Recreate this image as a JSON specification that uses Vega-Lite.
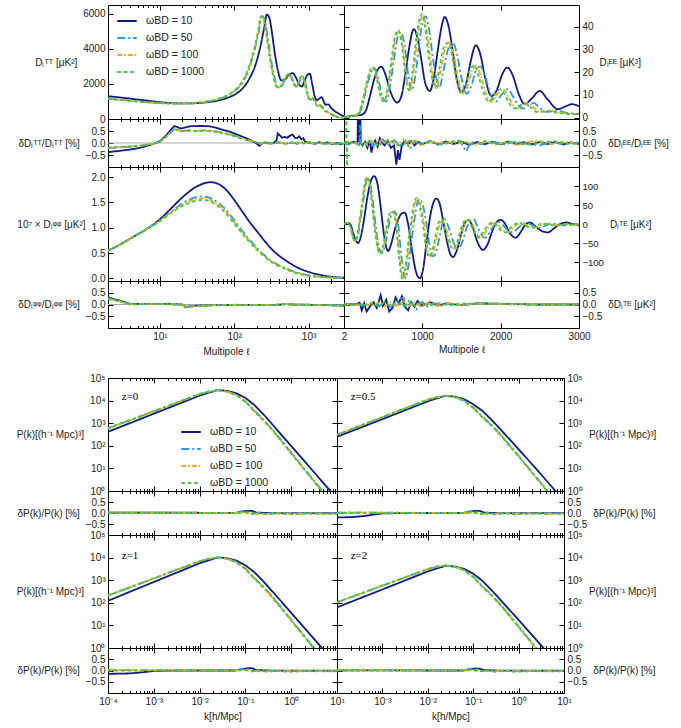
{
"$schema":"https://vega.github.io/schema/vega-lite/v6.json",
"padding":{"left":15,"top":4,"right":5,"bottom":5},
"config":{
 "font":"Liberation Sans",
 "view":{"stroke":"#000","strokeWidth":1},
 "axis":{"domain":false,"grid":false,"labelFont":"Liberation Sans","labelFontSize":10,"labelColor":"#222","titleFont":"Liberation Sans","titleFontSize":10,"titleFontWeight":"normal","titleColor":"#222","tickColor":"#000","tickSize":-5,"labelPadding":8,"labelFlush":false,"labelOverlap":false},
 "axisLeft":{"titleAngle":0,"titleAlign":"right","titleBaseline":"middle","titlePadding":6},
 "axisRight":{"titleAngle":0,"titleAlign":"left","titleBaseline":"middle","titlePadding":6},
 "axisBottom":{"titlePadding":3},
 "line":{"strokeWidth":1.8},
 "legend":{"symbolType":"stroke","symbolSize":380,"symbolStrokeWidth":2,"labelFont":"Liberation Sans","labelFontSize":10.5,"labelColor":"#222","rowPadding":-8,"labelOffset":8}
},
"datasets":{
"tt":[
{"s":10,"x":2,"y":1300},{"s":10,"x":3,"y":1220},{"s":10,"x":4,"y":1160},{"s":10,"x":5,"y":1110},{"s":10,"x":7,"y":1040},{"s":10,"x":10,"y":960},{"s":10,"x":15,"y":905},{"s":10,"x":20,"y":890},{"s":10,"x":30,"y":900},{"s":10,"x":40,"y":940},{"s":10,"x":60,"y":1050},{"s":10,"x":80,"y":1200},{"s":10,"x":100,"y":1380},{"s":10,"x":130,"y":1750},{"s":10,"x":160,"y":2300},{"s":10,"x":190,"y":3000},{"s":10,"x":220,"y":3950},{"s":10,"x":250,"y":5100},{"s":10,"x":275,"y":5950},{"s":10,"x":295,"y":5800},{"s":10,"x":320,"y":5000},{"s":10,"x":350,"y":3800},{"s":10,"x":390,"y":2700},{"s":10,"x":430,"y":2200},{"s":10,"x":480,"y":2250},{"s":10,"x":540,"y":2500},{"s":10,"x":610,"y":2620},{"s":10,"x":680,"y":2350},{"s":10,"x":750,"y":1950},{"s":10,"x":810,"y":1850},{"s":10,"x":880,"y":2150},{"s":10,"x":960,"y":2500},{"s":10,"x":1040,"y":2580},{"s":10,"x":1120,"y":2000},{"s":10,"x":1200,"y":1350},{"s":10,"x":1280,"y":1080},{"s":10,"x":1380,"y":1150},{"s":10,"x":1500,"y":1250},{"s":10,"x":1600,"y":1000},{"s":10,"x":1700,"y":820},{"s":10,"x":1850,"y":830},{"s":10,"x":2000,"y":650},{"s":10,"x":2200,"y":480},{"s":10,"x":2500,"y":330},{"s":10,"x":2800,"y":210},{"s":10,"x":3000,"y":150},
{"s":50,"x":2,"y":1160},{"s":50,"x":3,"y":1095},{"s":50,"x":4,"y":1045},{"s":50,"x":5,"y":1005},{"s":50,"x":7,"y":955},{"s":50,"x":10,"y":915},{"s":50,"x":15,"y":888},{"s":50,"x":20,"y":886},{"s":50,"x":30,"y":918},{"s":50,"x":40,"y":975},{"s":50,"x":60,"y":1120},{"s":50,"x":80,"y":1310},{"s":50,"x":100,"y":1570},{"s":50,"x":130,"y":2100},{"s":50,"x":160,"y":2920},{"s":50,"x":190,"y":4000},{"s":50,"x":212,"y":4900},{"s":50,"x":236,"y":5880},{"s":50,"x":255,"y":5720},{"s":50,"x":280,"y":4780},{"s":50,"x":305,"y":3680},{"s":50,"x":336,"y":2680},{"s":50,"x":366,"y":2020},{"s":50,"x":396,"y":1790},{"s":50,"x":436,"y":1890},{"s":50,"x":488,"y":2290},{"s":50,"x":540,"y":2560},{"s":50,"x":590,"y":2400},{"s":50,"x":650,"y":2000},{"s":50,"x":700,"y":1830},{"s":50,"x":762,"y":2150},{"s":50,"x":822,"y":2440},{"s":50,"x":884,"y":2240},{"s":50,"x":955,"y":1650},{"s":50,"x":1025,"y":1150},{"s":50,"x":1096,"y":1100},{"s":50,"x":1168,"y":1190},{"s":50,"x":1250,"y":950},{"s":50,"x":1340,"y":760},{"s":50,"x":1440,"y":800},{"s":50,"x":1545,"y":650},{"s":50,"x":1675,"y":490},{"s":50,"x":1830,"y":400},{"s":50,"x":2000,"y":290},{"s":50,"x":2200,"y":195},{"s":50,"x":2500,"y":115},{"s":50,"x":2800,"y":65},{"s":50,"x":3000,"y":45},
{"s":100,"x":2,"y":1150},{"s":100,"x":3,"y":1090},{"s":100,"x":4,"y":1040},{"s":100,"x":5,"y":1000},{"s":100,"x":7,"y":950},{"s":100,"x":10,"y":910},{"s":100,"x":15,"y":885},{"s":100,"x":20,"y":885},{"s":100,"x":30,"y":920},{"s":100,"x":40,"y":980},{"s":100,"x":60,"y":1130},{"s":100,"x":80,"y":1330},{"s":100,"x":100,"y":1600},{"s":100,"x":130,"y":2150},{"s":100,"x":160,"y":3000},{"s":100,"x":190,"y":4100},{"s":100,"x":210,"y":4950},{"s":100,"x":232,"y":5850},{"s":100,"x":250,"y":5700},{"s":100,"x":275,"y":4750},{"s":100,"x":300,"y":3650},{"s":100,"x":330,"y":2650},{"s":100,"x":360,"y":2000},{"s":100,"x":390,"y":1780},{"s":100,"x":430,"y":1900},{"s":100,"x":480,"y":2300},{"s":100,"x":530,"y":2550},{"s":100,"x":580,"y":2400},{"s":100,"x":640,"y":2000},{"s":100,"x":690,"y":1820},{"s":100,"x":750,"y":2150},{"s":100,"x":810,"y":2450},{"s":100,"x":870,"y":2250},{"s":100,"x":940,"y":1650},{"s":100,"x":1010,"y":1150},{"s":100,"x":1080,"y":1100},{"s":100,"x":1150,"y":1200},{"s":100,"x":1230,"y":950},{"s":100,"x":1320,"y":750},{"s":100,"x":1420,"y":800},{"s":100,"x":1520,"y":650},{"s":100,"x":1650,"y":480},{"s":100,"x":1800,"y":400},{"s":100,"x":2000,"y":280},{"s":100,"x":2200,"y":190},{"s":100,"x":2500,"y":110},{"s":100,"x":2800,"y":60},{"s":100,"x":3000,"y":40},
{"s":1000,"x":2,"y":1140},{"s":1000,"x":3,"y":1080},{"s":1000,"x":4,"y":1035},{"s":1000,"x":5,"y":995},{"s":1000,"x":7,"y":945},{"s":1000,"x":10,"y":905},{"s":1000,"x":15,"y":882},{"s":1000,"x":20,"y":884},{"s":1000,"x":30,"y":922},{"s":1000,"x":40,"y":985},{"s":1000,"x":60,"y":1140},{"s":1000,"x":80,"y":1345},{"s":1000,"x":100,"y":1620},{"s":1000,"x":130,"y":2180},{"s":1000,"x":160,"y":3050},{"s":1000,"x":190,"y":4150},{"s":1000,"x":208,"y":4950},{"s":1000,"x":229,"y":5850},{"s":1000,"x":247,"y":5720},{"s":1000,"x":272,"y":4760},{"s":1000,"x":297,"y":3650},{"s":1000,"x":327,"y":2650},{"s":1000,"x":356,"y":2000},{"s":1000,"x":386,"y":1780},{"s":1000,"x":426,"y":1900},{"s":1000,"x":475,"y":2300},{"s":1000,"x":525,"y":2540},{"s":1000,"x":574,"y":2400},{"s":1000,"x":634,"y":2000},{"s":1000,"x":683,"y":1820},{"s":1000,"x":742,"y":2150},{"s":1000,"x":802,"y":2440},{"s":1000,"x":862,"y":2250},{"s":1000,"x":930,"y":1650},{"s":1000,"x":1000,"y":1150},{"s":1000,"x":1070,"y":1100},{"s":1000,"x":1140,"y":1200},{"s":1000,"x":1218,"y":950},{"s":1000,"x":1306,"y":750},{"s":1000,"x":1405,"y":800},{"s":1000,"x":1505,"y":650},{"s":1000,"x":1635,"y":480},{"s":1000,"x":1780,"y":400},{"s":1000,"x":2000,"y":275},{"s":1000,"x":2200,"y":185},{"s":1000,"x":2500,"y":105},{"s":1000,"x":2800,"y":58},{"s":1000,"x":3000,"y":38}
],
"dtt":[
{"s":10,"x":2,"y":-0.38},{"s":10,"x":3,"y":-0.32},{"s":10,"x":4,"y":-0.27},{"s":10,"x":5,"y":-0.22},{"s":10,"x":6,"y":-0.16},{"s":10,"x":7,"y":-0.1},{"s":10,"x":8,"y":-0.05},{"s":10,"x":10,"y":0.08},{"s":10,"x":12,"y":0.3},{"s":10,"x":14,"y":0.55},{"s":10,"x":15.5,"y":0.7},{"s":10,"x":17,"y":0.67},{"s":10,"x":19,"y":0.6},{"s":10,"x":22,"y":0.65},{"s":10,"x":26,"y":0.7},{"s":10,"x":35,"y":0.71},{"s":10,"x":45,"y":0.7},{"s":10,"x":55,"y":0.65},{"s":10,"x":70,"y":0.55},{"s":10,"x":85,"y":0.48},{"s":10,"x":100,"y":0.4},{"s":10,"x":120,"y":0.3},{"s":10,"x":150,"y":0.18},{"s":10,"x":175,"y":0.08},{"s":10,"x":200,"y":-0.02},{"s":10,"x":218,"y":-0.12},{"s":10,"x":235,"y":-0.02},{"s":10,"x":260,"y":0.02},{"s":10,"x":300,"y":-0.02},{"s":10,"x":340,"y":0},{"s":10,"x":370,"y":0.1},{"s":10,"x":385,"y":0.4},{"s":10,"x":410,"y":0.32},{"s":10,"x":440,"y":0.22},{"s":10,"x":480,"y":0.25},{"s":10,"x":520,"y":0.22},{"s":10,"x":560,"y":0.3},{"s":10,"x":610,"y":0.35},{"s":10,"x":660,"y":0.2},{"s":10,"x":700,"y":0.2},{"s":10,"x":750,"y":0.28},{"s":10,"x":800,"y":0.15},{"s":10,"x":850,"y":0.2},{"s":10,"x":900,"y":0.05},{"s":10,"x":1000,"y":0.02},{"s":10,"x":1200,"y":-0.03},{"s":10,"x":1400,"y":0.03},{"s":10,"x":1600,"y":-0.02},{"s":10,"x":1800,"y":0.03},{"s":10,"x":2100,"y":-0.04},{"s":10,"x":2400,"y":0},{"s":10,"x":2700,"y":-0.05},{"s":10,"x":3000,"y":-0.04},
{"s":50,"x":2,"y":-0.21},{"s":50,"x":4,"y":-0.15},{"s":50,"x":6,"y":-0.1},{"s":50,"x":8,"y":-0.04},{"s":50,"x":10,"y":0.05},{"s":50,"x":12,"y":0.24},{"s":50,"x":14,"y":0.44},{"s":50,"x":15.5,"y":0.57},{"s":50,"x":17,"y":0.55},{"s":50,"x":19,"y":0.5},{"s":50,"x":24,"y":0.53},{"s":50,"x":30,"y":0.51},{"s":50,"x":40,"y":0.53},{"s":50,"x":50,"y":0.51},{"s":50,"x":65,"y":0.45},{"s":50,"x":80,"y":0.39},{"s":50,"x":100,"y":0.31},{"s":50,"x":130,"y":0.19},{"s":50,"x":160,"y":0.1},{"s":50,"x":200,"y":0.02},{"s":50,"x":230,"y":-0.05},{"s":50,"x":260,"y":0.03},{"s":50,"x":300,"y":-0.04},{"s":50,"x":400,"y":0.03},{"s":50,"x":500,"y":-0.02},{"s":50,"x":600,"y":0.03},{"s":50,"x":700,"y":-0.03},{"s":50,"x":800,"y":0.01},{"s":50,"x":900,"y":-0.04},{"s":50,"x":1000,"y":0.03},{"s":50,"x":1200,"y":-0.02},{"s":50,"x":1400,"y":0.02},{"s":50,"x":1700,"y":-0.03},{"s":50,"x":2000,"y":0.01},{"s":50,"x":2400,"y":-0.03},{"s":50,"x":2700,"y":-0.01},{"s":50,"x":3000,"y":-0.04},
{"s":100,"x":2,"y":-0.2},{"s":100,"x":4,"y":-0.15},{"s":100,"x":6,"y":-0.1},{"s":100,"x":8,"y":-0.04},{"s":100,"x":10,"y":0.06},{"s":100,"x":12,"y":0.25},{"s":100,"x":14,"y":0.45},{"s":100,"x":15.5,"y":0.58},{"s":100,"x":17,"y":0.56},{"s":100,"x":19,"y":0.5},{"s":100,"x":24,"y":0.52},{"s":100,"x":30,"y":0.5},{"s":100,"x":40,"y":0.52},{"s":100,"x":50,"y":0.5},{"s":100,"x":65,"y":0.44},{"s":100,"x":80,"y":0.38},{"s":100,"x":100,"y":0.3},{"s":100,"x":130,"y":0.18},{"s":100,"x":160,"y":0.1},{"s":100,"x":200,"y":0.03},{"s":100,"x":230,"y":-0.03},{"s":100,"x":260,"y":0.02},{"s":100,"x":300,"y":-0.03},{"s":100,"x":400,"y":0.02},{"s":100,"x":500,"y":-0.03},{"s":100,"x":600,"y":0.02},{"s":100,"x":700,"y":-0.02},{"s":100,"x":800,"y":0.02},{"s":100,"x":900,"y":-0.03},{"s":100,"x":1000,"y":0.02},{"s":100,"x":1200,"y":-0.03},{"s":100,"x":1400,"y":0.01},{"s":100,"x":1700,"y":-0.04},{"s":100,"x":2000,"y":0},{"s":100,"x":2400,"y":-0.04},{"s":100,"x":2700,"y":0},{"s":100,"x":3000,"y":-0.05},
{"s":1000,"x":2,"y":-0.19},{"s":1000,"x":4,"y":-0.14},{"s":1000,"x":6,"y":-0.09},{"s":1000,"x":8,"y":-0.03},{"s":1000,"x":10,"y":0.06},{"s":1000,"x":12,"y":0.25},{"s":1000,"x":14,"y":0.45},{"s":1000,"x":15.5,"y":0.57},{"s":1000,"x":17,"y":0.55},{"s":1000,"x":19,"y":0.49},{"s":1000,"x":24,"y":0.51},{"s":1000,"x":30,"y":0.49},{"s":1000,"x":40,"y":0.51},{"s":1000,"x":50,"y":0.49},{"s":1000,"x":65,"y":0.43},{"s":1000,"x":80,"y":0.37},{"s":1000,"x":100,"y":0.29},{"s":1000,"x":130,"y":0.17},{"s":1000,"x":160,"y":0.09},{"s":1000,"x":200,"y":0.03},{"s":1000,"x":230,"y":-0.02},{"s":1000,"x":260,"y":0.01},{"s":1000,"x":300,"y":-0.02},{"s":1000,"x":400,"y":0.01},{"s":1000,"x":500,"y":-0.04},{"s":1000,"x":600,"y":0.01},{"s":1000,"x":700,"y":-0.01},{"s":1000,"x":800,"y":0.03},{"s":1000,"x":900,"y":-0.02},{"s":1000,"x":1000,"y":0.01},{"s":1000,"x":1200,"y":-0.04},{"s":1000,"x":1400,"y":0},{"s":1000,"x":1700,"y":-0.05},{"s":1000,"x":2000,"y":-0.01},{"s":1000,"x":2400,"y":-0.05},{"s":1000,"x":2700,"y":0.01},{"s":1000,"x":3000,"y":-0.06}
],
"pp":[
{"s":10,"x":2,"y":0.55},{"s":10,"x":3,"y":0.68},{"s":10,"x":4,"y":0.79},{"s":10,"x":5,"y":0.87},{"s":10,"x":7,"y":1.0},{"s":10,"x":10,"y":1.17},{"s":10,"x":15,"y":1.42},{"s":10,"x":20,"y":1.6},{"s":10,"x":30,"y":1.8},{"s":10,"x":40,"y":1.88},{"s":10,"x":48,"y":1.9},{"s":10,"x":60,"y":1.87},{"s":10,"x":80,"y":1.73},{"s":10,"x":100,"y":1.55},{"s":10,"x":130,"y":1.31},{"s":10,"x":160,"y":1.12},{"s":10,"x":200,"y":0.94},{"s":10,"x":250,"y":0.76},{"s":10,"x":300,"y":0.62},{"s":10,"x":400,"y":0.45},{"s":10,"x":500,"y":0.35},{"s":10,"x":700,"y":0.22},{"s":10,"x":1000,"y":0.13},{"s":10,"x":1500,"y":0.065},{"s":10,"x":2000,"y":0.035},{"s":10,"x":3000,"y":0.015},
{"s":50,"x":2,"y":0.55},{"s":50,"x":3,"y":0.68},{"s":50,"x":4,"y":0.79},{"s":50,"x":5,"y":0.87},{"s":50,"x":7,"y":1.0},{"s":50,"x":10,"y":1.15},{"s":50,"x":15,"y":1.35},{"s":50,"x":20,"y":1.48},{"s":50,"x":30,"y":1.6},{"s":50,"x":37,"y":1.62},{"s":50,"x":45,"y":1.6},{"s":50,"x":60,"y":1.5},{"s":50,"x":80,"y":1.33},{"s":50,"x":100,"y":1.15},{"s":50,"x":130,"y":0.93},{"s":50,"x":160,"y":0.77},{"s":50,"x":200,"y":0.61},{"s":50,"x":250,"y":0.47},{"s":50,"x":300,"y":0.37},{"s":50,"x":400,"y":0.26},{"s":50,"x":500,"y":0.2},{"s":50,"x":700,"y":0.115},{"s":50,"x":1000,"y":0.063},{"s":50,"x":1500,"y":0.031},{"s":50,"x":2000,"y":0.018},{"s":50,"x":3000,"y":0.008},
{"s":100,"x":2,"y":0.55},{"s":100,"x":3,"y":0.68},{"s":100,"x":4,"y":0.79},{"s":100,"x":5,"y":0.87},{"s":100,"x":7,"y":0.99},{"s":100,"x":10,"y":1.14},{"s":100,"x":15,"y":1.33},{"s":100,"x":20,"y":1.45},{"s":100,"x":30,"y":1.56},{"s":100,"x":37,"y":1.58},{"s":100,"x":45,"y":1.56},{"s":100,"x":60,"y":1.46},{"s":100,"x":80,"y":1.29},{"s":100,"x":100,"y":1.11},{"s":100,"x":130,"y":0.9},{"s":100,"x":160,"y":0.74},{"s":100,"x":200,"y":0.59},{"s":100,"x":250,"y":0.45},{"s":100,"x":300,"y":0.36},{"s":100,"x":400,"y":0.25},{"s":100,"x":500,"y":0.19},{"s":100,"x":700,"y":0.11},{"s":100,"x":1000,"y":0.06},{"s":100,"x":1500,"y":0.03},{"s":100,"x":2000,"y":0.017},{"s":100,"x":3000,"y":0.007},
{"s":1000,"x":2,"y":0.55},{"s":1000,"x":3,"y":0.68},{"s":1000,"x":4,"y":0.79},{"s":1000,"x":5,"y":0.87},{"s":1000,"x":7,"y":0.99},{"s":1000,"x":10,"y":1.13},{"s":1000,"x":15,"y":1.32},{"s":1000,"x":20,"y":1.43},{"s":1000,"x":30,"y":1.53},{"s":1000,"x":37,"y":1.55},{"s":1000,"x":45,"y":1.53},{"s":1000,"x":60,"y":1.43},{"s":1000,"x":80,"y":1.26},{"s":1000,"x":100,"y":1.08},{"s":1000,"x":130,"y":0.88},{"s":1000,"x":160,"y":0.72},{"s":1000,"x":200,"y":0.57},{"s":1000,"x":250,"y":0.44},{"s":1000,"x":300,"y":0.35},{"s":1000,"x":400,"y":0.24},{"s":1000,"x":500,"y":0.18},{"s":1000,"x":700,"y":0.105},{"s":1000,"x":1000,"y":0.057},{"s":1000,"x":1500,"y":0.028},{"s":1000,"x":2000,"y":0.016},{"s":1000,"x":3000,"y":0.007}
],
"dpp":[
{"s":10,"x":2,"y":0.3},{"s":10,"x":3,"y":0.15},{"s":10,"x":4,"y":0.02},{"s":10,"x":6,"y":0.03},{"s":10,"x":10,"y":0.03},{"s":10,"x":15,"y":0.02},{"s":10,"x":20,"y":0},{"s":10,"x":22,"y":-0.1},{"s":10,"x":25,"y":-0.08},{"s":10,"x":30,"y":-0.05},{"s":10,"x":50,"y":-0.03},{"s":10,"x":100,"y":-0.02},{"s":10,"x":200,"y":-0.02},{"s":10,"x":400,"y":-0.01},{"s":10,"x":500,"y":0.02},{"s":10,"x":600,"y":0},{"s":10,"x":1000,"y":-0.01},{"s":10,"x":2000,"y":-0.03},{"s":10,"x":3000,"y":-0.05},
{"s":50,"x":2,"y":0.27},{"s":50,"x":3,"y":0.13},{"s":50,"x":4,"y":0.01},{"s":50,"x":6,"y":0.02},{"s":50,"x":10,"y":0.02},{"s":50,"x":15,"y":0.01},{"s":50,"x":20,"y":-0.01},{"s":50,"x":22,"y":-0.12},{"s":50,"x":25,"y":-0.09},{"s":50,"x":30,"y":-0.06},{"s":50,"x":50,"y":-0.03},{"s":50,"x":100,"y":-0.01},{"s":50,"x":200,"y":-0.02},{"s":50,"x":400,"y":-0.01},{"s":50,"x":500,"y":0.03},{"s":50,"x":600,"y":0},{"s":50,"x":1000,"y":-0.02},{"s":50,"x":2000,"y":-0.02},{"s":50,"x":3000,"y":-0.06},
{"s":100,"x":2,"y":0.25},{"s":100,"x":3,"y":0.12},{"s":100,"x":4,"y":0.01},{"s":100,"x":6,"y":0.02},{"s":100,"x":10,"y":0.02},{"s":100,"x":15,"y":0.01},{"s":100,"x":20,"y":-0.01},{"s":100,"x":22,"y":-0.12},{"s":100,"x":25,"y":-0.09},{"s":100,"x":30,"y":-0.06},{"s":100,"x":50,"y":-0.03},{"s":100,"x":100,"y":-0.02},{"s":100,"x":200,"y":-0.02},{"s":100,"x":400,"y":-0.01},{"s":100,"x":500,"y":0.03},{"s":100,"x":600,"y":0},{"s":100,"x":1000,"y":-0.02},{"s":100,"x":2000,"y":-0.03},{"s":100,"x":3000,"y":-0.06},
{"s":1000,"x":2,"y":0.24},{"s":1000,"x":3,"y":0.11},{"s":1000,"x":4,"y":0},{"s":1000,"x":6,"y":0.02},{"s":1000,"x":10,"y":0.02},{"s":1000,"x":15,"y":0},{"s":1000,"x":20,"y":-0.01},{"s":1000,"x":22,"y":-0.13},{"s":1000,"x":25,"y":-0.1},{"s":1000,"x":30,"y":-0.06},{"s":1000,"x":50,"y":-0.04},{"s":1000,"x":100,"y":-0.02},{"s":1000,"x":200,"y":-0.03},{"s":1000,"x":400,"y":-0.01},{"s":1000,"x":500,"y":0.02},{"s":1000,"x":600,"y":-0.01},{"s":1000,"x":1000,"y":-0.02},{"s":1000,"x":2000,"y":-0.04},{"s":1000,"x":3000,"y":-0.07}
],
"ee":[
{"s":10,"x":2,"y":0.8},{"s":10,"x":20,"y":0.3},{"s":10,"x":60,"y":0.5},{"s":10,"x":120,"y":0.8},{"s":10,"x":180,"y":1.0},{"s":10,"x":230,"y":1.3},{"s":10,"x":280,"y":3},{"s":10,"x":330,"y":9},{"s":10,"x":380,"y":16},{"s":10,"x":430,"y":21},{"s":10,"x":480,"y":22.4},{"s":10,"x":530,"y":19},{"s":10,"x":580,"y":13},{"s":10,"x":630,"y":8.5},{"s":10,"x":680,"y":6.6},{"s":10,"x":730,"y":9},{"s":10,"x":780,"y":18},{"s":10,"x":830,"y":30},{"s":10,"x":892,"y":38.9},{"s":10,"x":940,"y":35},{"s":10,"x":990,"y":25},{"s":10,"x":1040,"y":15},{"s":10,"x":1096,"y":11.7},{"s":10,"x":1150,"y":18},{"s":10,"x":1200,"y":30},{"s":10,"x":1250,"y":40.5},{"s":10,"x":1287,"y":44.3},{"s":10,"x":1330,"y":41},{"s":10,"x":1390,"y":29},{"s":10,"x":1440,"y":17},{"s":10,"x":1499,"y":11.4},{"s":10,"x":1560,"y":15},{"s":10,"x":1620,"y":25},{"s":10,"x":1682,"y":31.8},{"s":10,"x":1740,"y":28},{"s":10,"x":1800,"y":18},{"s":10,"x":1881,"y":9.5},{"s":10,"x":1950,"y":12},{"s":10,"x":2020,"y":19},{"s":10,"x":2085,"y":22},{"s":10,"x":2150,"y":19},{"s":10,"x":2230,"y":10.5},{"s":10,"x":2306,"y":5.9},{"s":10,"x":2400,"y":8.5},{"s":10,"x":2497,"y":11.7},{"s":10,"x":2600,"y":8},{"s":10,"x":2730,"y":3.7},{"s":10,"x":2830,"y":5},{"s":10,"x":2913,"y":5.9},{"s":10,"x":3000,"y":5},
{"s":50,"x":2,"y":0.6},{"s":50,"x":20,"y":0.3},{"s":50,"x":60,"y":0.6},{"s":50,"x":100,"y":0.9},{"s":50,"x":144,"y":1.0},{"s":50,"x":175,"y":1.3},{"s":50,"x":206,"y":2.4},{"s":50,"x":247,"y":6.8},{"s":50,"x":288,"y":12.8},{"s":50,"x":340,"y":19.3},{"s":50,"x":385,"y":22},{"s":50,"x":433,"y":18},{"s":50,"x":484,"y":10},{"s":50,"x":538,"y":7},{"s":50,"x":587,"y":13.5},{"s":50,"x":639,"y":25.5},{"s":50,"x":680,"y":34.5},{"s":50,"x":726,"y":37.5},{"s":50,"x":773,"y":32},{"s":50,"x":824,"y":18.5},{"s":50,"x":866,"y":12},{"s":50,"x":917,"y":19.5},{"s":50,"x":968,"y":34.5},{"s":50,"x":1009,"y":42.5},{"s":50,"x":1041,"y":44.5},{"s":50,"x":1082,"y":40},{"s":50,"x":1133,"y":27},{"s":50,"x":1185,"y":16},{"s":50,"x":1216,"y":13},{"s":50,"x":1267,"y":20},{"s":50,"x":1329,"y":30},{"s":50,"x":1391,"y":33},{"s":50,"x":1442,"y":28},{"s":50,"x":1504,"y":17},{"s":50,"x":1566,"y":10.5},{"s":50,"x":1627,"y":14},{"s":50,"x":1689,"y":21},{"s":50,"x":1741,"y":22.5},{"s":50,"x":1803,"y":18},{"s":50,"x":1875,"y":10},{"s":50,"x":1937,"y":7},{"s":50,"x":2009,"y":10},{"s":50,"x":2091,"y":12.5},{"s":50,"x":2163,"y":9},{"s":50,"x":2235,"y":5},{"s":50,"x":2287,"y":4},{"s":50,"x":2359,"y":5.5},{"s":50,"x":2421,"y":6.5},{"s":50,"x":2493,"y":4.5},{"s":50,"x":2575,"y":2.5},{"s":50,"x":2657,"y":2.8},{"s":50,"x":2730,"y":3},{"s":50,"x":2830,"y":2.2},{"s":50,"x":2930,"y":1.8},{"s":50,"x":3000,"y":1.6},
{"s":100,"x":2,"y":0.6},{"s":100,"x":20,"y":0.3},{"s":100,"x":60,"y":0.6},{"s":100,"x":100,"y":0.9},{"s":100,"x":140,"y":1.0},{"s":100,"x":170,"y":1.3},{"s":100,"x":200,"y":2.5},{"s":100,"x":240,"y":7},{"s":100,"x":280,"y":13},{"s":100,"x":330,"y":19.5},{"s":100,"x":374,"y":22},{"s":100,"x":420,"y":18},{"s":100,"x":470,"y":10},{"s":100,"x":522,"y":7},{"s":100,"x":570,"y":14},{"s":100,"x":620,"y":26},{"s":100,"x":660,"y":35},{"s":100,"x":705,"y":38},{"s":100,"x":750,"y":32},{"s":100,"x":800,"y":18},{"s":100,"x":841,"y":12},{"s":100,"x":890,"y":20},{"s":100,"x":940,"y":35},{"s":100,"x":980,"y":43},{"s":100,"x":1011,"y":45},{"s":100,"x":1050,"y":40},{"s":100,"x":1100,"y":27},{"s":100,"x":1150,"y":16},{"s":100,"x":1181,"y":13},{"s":100,"x":1230,"y":20},{"s":100,"x":1290,"y":30},{"s":100,"x":1350,"y":33},{"s":100,"x":1400,"y":28},{"s":100,"x":1460,"y":17},{"s":100,"x":1520,"y":10.5},{"s":100,"x":1580,"y":14},{"s":100,"x":1640,"y":21},{"s":100,"x":1690,"y":23},{"s":100,"x":1750,"y":18},{"s":100,"x":1820,"y":10},{"s":100,"x":1881,"y":7},{"s":100,"x":1950,"y":10},{"s":100,"x":2030,"y":12.5},{"s":100,"x":2100,"y":9},{"s":100,"x":2170,"y":5},{"s":100,"x":2220,"y":4},{"s":100,"x":2290,"y":5.5},{"s":100,"x":2350,"y":6.5},{"s":100,"x":2420,"y":4.5},{"s":100,"x":2500,"y":2.5},{"s":100,"x":2580,"y":2.8},{"s":100,"x":2650,"y":3},{"s":100,"x":2750,"y":2.2},{"s":100,"x":2850,"y":1.8},{"s":100,"x":3000,"y":1.5},
{"s":1000,"x":2,"y":0.6},{"s":1000,"x":20,"y":0.3},{"s":1000,"x":60,"y":0.6},{"s":1000,"x":100,"y":0.9},{"s":1000,"x":138,"y":1.0},{"s":1000,"x":167,"y":1.3},{"s":1000,"x":197,"y":2.6},{"s":1000,"x":236,"y":7.2},{"s":1000,"x":276,"y":13.2},{"s":1000,"x":325,"y":19.7},{"s":1000,"x":368,"y":22.2},{"s":1000,"x":414,"y":18},{"s":1000,"x":463,"y":10},{"s":1000,"x":514,"y":7},{"s":1000,"x":561,"y":14},{"s":1000,"x":611,"y":26.5},{"s":1000,"x":650,"y":35.5},{"s":1000,"x":694,"y":38.5},{"s":1000,"x":739,"y":32},{"s":1000,"x":788,"y":18},{"s":1000,"x":828,"y":12},{"s":1000,"x":877,"y":20.5},{"s":1000,"x":926,"y":35.5},{"s":1000,"x":965,"y":43.5},{"s":1000,"x":996,"y":45.5},{"s":1000,"x":1034,"y":40},{"s":1000,"x":1084,"y":26.5},{"s":1000,"x":1133,"y":16},{"s":1000,"x":1163,"y":13},{"s":1000,"x":1212,"y":20.5},{"s":1000,"x":1271,"y":30.5},{"s":1000,"x":1330,"y":33},{"s":1000,"x":1379,"y":27.5},{"s":1000,"x":1438,"y":16.5},{"s":1000,"x":1497,"y":10.5},{"s":1000,"x":1556,"y":14},{"s":1000,"x":1615,"y":21.5},{"s":1000,"x":1665,"y":23},{"s":1000,"x":1724,"y":17.5},{"s":1000,"x":1793,"y":10},{"s":1000,"x":1853,"y":7},{"s":1000,"x":1921,"y":10},{"s":1000,"x":2000,"y":12.5},{"s":1000,"x":2069,"y":9},{"s":1000,"x":2137,"y":5},{"s":1000,"x":2187,"y":4},{"s":1000,"x":2256,"y":5.5},{"s":1000,"x":2315,"y":6.5},{"s":1000,"x":2384,"y":4.5},{"s":1000,"x":2463,"y":2.5},{"s":1000,"x":2541,"y":2.8},{"s":1000,"x":2610,"y":3},{"s":1000,"x":2709,"y":2.2},{"s":1000,"x":2807,"y":1.8},{"s":1000,"x":3000,"y":1.4}
],
"dee":[
{"s":10,"x":2,"y":0},{"s":10,"x":10,"y":0.05},{"s":10,"x":40,"y":-0.05},{"s":10,"x":120,"y":0.05},{"s":10,"x":175,"y":0},{"s":10,"x":180,"y":1.5},{"s":10,"x":186,"y":0},{"s":10,"x":195,"y":-0.1},{"s":10,"x":210,"y":1.5},{"s":10,"x":216,"y":0},{"s":10,"x":240,"y":-0.1},{"s":10,"x":270,"y":0.05},{"s":10,"x":300,"y":-0.2},{"s":10,"x":330,"y":0.1},{"s":10,"x":352,"y":-0.4},{"s":10,"x":370,"y":-0.1},{"s":10,"x":400,"y":0.1},{"s":10,"x":430,"y":-0.15},{"s":10,"x":460,"y":0.2},{"s":10,"x":490,"y":0},{"s":10,"x":520,"y":-0.1},{"s":10,"x":560,"y":0.1},{"s":10,"x":600,"y":-0.2},{"s":10,"x":640,"y":-0.1},{"s":10,"x":670,"y":-0.9},{"s":10,"x":690,"y":-0.3},{"s":10,"x":710,"y":-0.7},{"s":10,"x":740,"y":-0.1},{"s":10,"x":780,"y":0.1},{"s":10,"x":820,"y":-0.05},{"s":10,"x":860,"y":0.08},{"s":10,"x":900,"y":-0.1},{"s":10,"x":950,"y":0.05},{"s":10,"x":1000,"y":-0.05},{"s":10,"x":1100,"y":0.08},{"s":10,"x":1200,"y":-0.05},{"s":10,"x":1300,"y":0.06},{"s":10,"x":1400,"y":-0.04},{"s":10,"x":1500,"y":0.05},{"s":10,"x":1600,"y":-0.08},{"s":10,"x":1700,"y":0.04},{"s":10,"x":1800,"y":-0.05},{"s":10,"x":1900,"y":0.05},{"s":10,"x":2000,"y":-0.05},{"s":10,"x":2100,"y":0.06},{"s":10,"x":2200,"y":-0.04},{"s":10,"x":2300,"y":0.03},{"s":10,"x":2400,"y":-0.06},{"s":10,"x":2500,"y":0.05},{"s":10,"x":2600,"y":-0.04},{"s":10,"x":2700,"y":0.04},{"s":10,"x":2800,"y":-0.06},{"s":10,"x":2900,"y":0.03},{"s":10,"x":3000,"y":-0.05},
{"s":50,"x":2,"y":0},{"s":50,"x":60,"y":-0.05},{"s":50,"x":150,"y":0.05},{"s":50,"x":200,"y":0},{"s":50,"x":205,"y":0.75},{"s":50,"x":212,"y":0.5},{"s":50,"x":218,"y":0},{"s":50,"x":260,"y":-0.1},{"s":50,"x":320,"y":0.1},{"s":50,"x":380,"y":-0.15},{"s":50,"x":440,"y":0.1},{"s":50,"x":500,"y":0.15},{"s":50,"x":560,"y":-0.1},{"s":50,"x":640,"y":0.12},{"s":50,"x":720,"y":-0.1},{"s":50,"x":800,"y":0.05},{"s":50,"x":840,"y":-0.25},{"s":50,"x":900,"y":0.05},{"s":50,"x":1000,"y":-0.05},{"s":50,"x":1100,"y":0.08},{"s":50,"x":1200,"y":-0.08},{"s":50,"x":1350,"y":0.05},{"s":50,"x":1480,"y":0.1},{"s":50,"x":1560,"y":-0.35},{"s":50,"x":1620,"y":0.05},{"s":50,"x":1750,"y":-0.05},{"s":50,"x":1900,"y":0.06},{"s":50,"x":2050,"y":-0.06},{"s":50,"x":2200,"y":0.06},{"s":50,"x":2350,"y":-0.05},{"s":50,"x":2500,"y":-0.1},{"s":50,"x":2650,"y":0.05},{"s":50,"x":2800,"y":-0.05},{"s":50,"x":3000,"y":0.03},
{"s":100,"x":2,"y":0},{"s":100,"x":60,"y":0.05},{"s":100,"x":150,"y":-0.03},{"s":100,"x":250,"y":0.05},{"s":100,"x":300,"y":-0.1},{"s":100,"x":350,"y":0.1},{"s":100,"x":420,"y":-0.08},{"s":100,"x":480,"y":0.12},{"s":100,"x":550,"y":-0.05},{"s":100,"x":620,"y":0.1},{"s":100,"x":700,"y":-0.1},{"s":100,"x":760,"y":0.15},{"s":100,"x":830,"y":-0.08},{"s":100,"x":900,"y":0.1},{"s":100,"x":980,"y":-0.08},{"s":100,"x":1100,"y":0.05},{"s":100,"x":1200,"y":-0.05},{"s":100,"x":1300,"y":0.1},{"s":100,"x":1420,"y":-0.06},{"s":100,"x":1550,"y":0.05},{"s":100,"x":1680,"y":-0.08},{"s":100,"x":1800,"y":0.06},{"s":100,"x":1950,"y":-0.06},{"s":100,"x":2100,"y":0.05},{"s":100,"x":2200,"y":-0.1},{"s":100,"x":2350,"y":0.06},{"s":100,"x":2500,"y":0.08},{"s":100,"x":2650,"y":-0.05},{"s":100,"x":2800,"y":0.06},{"s":100,"x":3000,"y":-0.05},
{"s":1000,"x":2,"y":0},{"s":1000,"x":25,"y":0},{"s":1000,"x":32,"y":1.5},{"s":1000,"x":38,"y":-1.5},{"s":1000,"x":45,"y":0},{"s":1000,"x":90,"y":0.05},{"s":1000,"x":150,"y":-0.05},{"s":1000,"x":250,"y":-0.08},{"s":1000,"x":300,"y":0.1},{"s":1000,"x":380,"y":-0.05},{"s":1000,"x":450,"y":-0.1},{"s":1000,"x":520,"y":0.08},{"s":1000,"x":600,"y":0.1},{"s":1000,"x":680,"y":-0.08},{"s":1000,"x":750,"y":-0.1},{"s":1000,"x":820,"y":0.08},{"s":1000,"x":900,"y":0.1},{"s":1000,"x":1000,"y":-0.05},{"s":1000,"x":1120,"y":0.06},{"s":1000,"x":1250,"y":-0.08},{"s":1000,"x":1380,"y":0.05},{"s":1000,"x":1500,"y":0.06},{"s":1000,"x":1650,"y":-0.05},{"s":1000,"x":1800,"y":0.08},{"s":1000,"x":1950,"y":-0.06},{"s":1000,"x":2100,"y":0.05},{"s":1000,"x":2250,"y":-0.04},{"s":1000,"x":2400,"y":-0.06},{"s":1000,"x":2550,"y":0.05},{"s":1000,"x":2700,"y":0.07},{"s":1000,"x":2850,"y":-0.04},{"s":1000,"x":3000,"y":-0.03}
],
"te":[
{"s":10,"x":2,"y":0},{"s":10,"x":40,"y":3},{"s":10,"x":80,"y":0},{"s":10,"x":120,"y":-25},{"s":10,"x":150,"y":-42},{"s":10,"x":183,"y":-50},{"s":10,"x":220,"y":-30},{"s":10,"x":260,"y":15},{"s":10,"x":300,"y":70},{"s":10,"x":340,"y":110},{"s":10,"x":387,"y":126},{"s":10,"x":430,"y":105},{"s":10,"x":470,"y":45},{"s":10,"x":510,"y":-25},{"s":10,"x":540,"y":-60},{"s":10,"x":565,"y":-71},{"s":10,"x":600,"y":-55},{"s":10,"x":650,"y":-15},{"s":10,"x":700,"y":15},{"s":10,"x":740,"y":28},{"s":10,"x":777,"y":30},{"s":10,"x":820,"y":0},{"s":10,"x":870,"y":-70},{"s":10,"x":920,"y":-125},{"s":10,"x":968,"y":-143},{"s":10,"x":1010,"y":-120},{"s":10,"x":1060,"y":-40},{"s":10,"x":1110,"y":30},{"s":10,"x":1150,"y":60},{"s":10,"x":1181,"y":67},{"s":10,"x":1220,"y":55},{"s":10,"x":1270,"y":5},{"s":10,"x":1320,"y":-50},{"s":10,"x":1360,"y":-80},{"s":10,"x":1393,"y":-87},{"s":10,"x":1440,"y":-70},{"s":10,"x":1500,"y":-25},{"s":10,"x":1550,"y":5},{"s":10,"x":1584,"y":10},{"s":10,"x":1630,"y":0},{"s":10,"x":1700,"y":-45},{"s":10,"x":1775,"y":-68},{"s":10,"x":1830,"y":-55},{"s":10,"x":1900,"y":-15},{"s":10,"x":1950,"y":5},{"s":10,"x":2000,"y":11},{"s":10,"x":2050,"y":3},{"s":10,"x":2120,"y":-25},{"s":10,"x":2191,"y":-36},{"s":10,"x":2260,"y":-20},{"s":10,"x":2310,"y":-3},{"s":10,"x":2370,"y":4},{"s":10,"x":2440,"y":-5},{"s":10,"x":2520,"y":-18},{"s":10,"x":2603,"y":-22},{"s":10,"x":2690,"y":-10},{"s":10,"x":2760,"y":0},{"s":10,"x":2837,"y":4},{"s":10,"x":2920,"y":0},{"s":10,"x":3000,"y":-4},
{"s":50,"x":2,"y":0},{"s":50,"x":41,"y":3},{"s":50,"x":82,"y":-5},{"s":50,"x":113,"y":-30},{"s":50,"x":144,"y":-45},{"s":50,"x":175,"y":-35},{"s":50,"x":206,"y":5},{"s":50,"x":247,"y":58},{"s":50,"x":278,"y":103},{"s":50,"x":306,"y":121},{"s":50,"x":340,"y":104},{"s":50,"x":381,"y":40},{"s":50,"x":422,"y":-30},{"s":50,"x":453,"y":-65},{"s":50,"x":481,"y":-77},{"s":50,"x":515,"y":-65},{"s":50,"x":567,"y":-10},{"s":50,"x":608,"y":25},{"s":50,"x":647,"y":33},{"s":50,"x":690,"y":5},{"s":50,"x":731,"y":-80},{"s":50,"x":762,"y":-128},{"s":50,"x":783,"y":-143},{"s":50,"x":824,"y":-110},{"s":50,"x":865,"y":-40},{"s":50,"x":906,"y":20},{"s":50,"x":937,"y":55},{"s":50,"x":966,"y":66},{"s":50,"x":999,"y":55},{"s":50,"x":1051,"y":5},{"s":50,"x":1092,"y":-55},{"s":50,"x":1133,"y":-85},{"s":50,"x":1164,"y":-80},{"s":50,"x":1215,"y":-40},{"s":50,"x":1257,"y":0},{"s":50,"x":1288,"y":12},{"s":50,"x":1339,"y":-10},{"s":50,"x":1401,"y":-50},{"s":50,"x":1456,"y":-66},{"s":50,"x":1514,"y":-45},{"s":50,"x":1576,"y":-5},{"s":50,"x":1627,"y":12},{"s":50,"x":1658,"y":12},{"s":50,"x":1710,"y":-10},{"s":50,"x":1761,"y":-30},{"s":50,"x":1807,"y":-36},{"s":50,"x":1864,"y":-20},{"s":50,"x":1926,"y":-2},{"s":50,"x":1982,"y":5},{"s":50,"x":2039,"y":-5},{"s":50,"x":2101,"y":-18},{"s":50,"x":2156,"y":-22},{"s":50,"x":2225,"y":-10},{"s":50,"x":2287,"y":0},{"s":50,"x":2332,"y":3},{"s":50,"x":2400,"y":-3},{"s":50,"x":2472,"y":-9},{"s":50,"x":2506,"y":-10},{"s":50,"x":2575,"y":-4},{"s":50,"x":2647,"y":1},{"s":50,"x":2730,"y":-1},{"s":50,"x":2833,"y":-4},{"s":50,"x":2936,"y":0},{"s":50,"x":3000,"y":-2},
{"s":100,"x":2,"y":0},{"s":100,"x":40,"y":3},{"s":100,"x":80,"y":-5},{"s":100,"x":110,"y":-30},{"s":100,"x":140,"y":-45},{"s":100,"x":170,"y":-35},{"s":100,"x":200,"y":5},{"s":100,"x":240,"y":60},{"s":100,"x":270,"y":105},{"s":100,"x":297,"y":123},{"s":100,"x":330,"y":105},{"s":100,"x":370,"y":40},{"s":100,"x":410,"y":-30},{"s":100,"x":440,"y":-65},{"s":100,"x":467,"y":-78},{"s":100,"x":500,"y":-65},{"s":100,"x":550,"y":-10},{"s":100,"x":590,"y":25},{"s":100,"x":628,"y":33},{"s":100,"x":670,"y":5},{"s":100,"x":710,"y":-80},{"s":100,"x":740,"y":-130},{"s":100,"x":760,"y":-145},{"s":100,"x":800,"y":-110},{"s":100,"x":840,"y":-40},{"s":100,"x":880,"y":20},{"s":100,"x":910,"y":55},{"s":100,"x":938,"y":67},{"s":100,"x":970,"y":55},{"s":100,"x":1020,"y":5},{"s":100,"x":1060,"y":-55},{"s":100,"x":1100,"y":-85},{"s":100,"x":1130,"y":-80},{"s":100,"x":1180,"y":-40},{"s":100,"x":1220,"y":0},{"s":100,"x":1250,"y":11},{"s":100,"x":1300,"y":-10},{"s":100,"x":1360,"y":-50},{"s":100,"x":1414,"y":-66},{"s":100,"x":1470,"y":-45},{"s":100,"x":1530,"y":-5},{"s":100,"x":1580,"y":11},{"s":100,"x":1610,"y":11},{"s":100,"x":1660,"y":-10},{"s":100,"x":1710,"y":-30},{"s":100,"x":1754,"y":-36},{"s":100,"x":1810,"y":-20},{"s":100,"x":1870,"y":-2},{"s":100,"x":1924,"y":4},{"s":100,"x":1980,"y":-5},{"s":100,"x":2040,"y":-18},{"s":100,"x":2093,"y":-22},{"s":100,"x":2160,"y":-10},{"s":100,"x":2220,"y":0},{"s":100,"x":2264,"y":3},{"s":100,"x":2330,"y":-3},{"s":100,"x":2400,"y":-9},{"s":100,"x":2433,"y":-10},{"s":100,"x":2500,"y":-4},{"s":100,"x":2570,"y":1},{"s":100,"x":2650,"y":-1},{"s":100,"x":2750,"y":-4},{"s":100,"x":2850,"y":0},{"s":100,"x":2950,"y":-2},{"s":100,"x":3000,"y":-1},
{"s":1000,"x":2,"y":0},{"s":1000,"x":39,"y":3},{"s":1000,"x":79,"y":-5},{"s":1000,"x":108,"y":-30},{"s":1000,"x":138,"y":-45},{"s":1000,"x":167,"y":-35},{"s":1000,"x":197,"y":5},{"s":1000,"x":236,"y":61},{"s":1000,"x":266,"y":106},{"s":1000,"x":293,"y":124},{"s":1000,"x":325,"y":105},{"s":1000,"x":364,"y":40},{"s":1000,"x":404,"y":-30},{"s":1000,"x":433,"y":-65},{"s":1000,"x":460,"y":-79},{"s":1000,"x":493,"y":-65},{"s":1000,"x":542,"y":-10},{"s":1000,"x":581,"y":25},{"s":1000,"x":619,"y":34},{"s":1000,"x":660,"y":5},{"s":1000,"x":699,"y":-80},{"s":1000,"x":729,"y":-132},{"s":1000,"x":749,"y":-146},{"s":1000,"x":788,"y":-110},{"s":1000,"x":827,"y":-40},{"s":1000,"x":867,"y":20},{"s":1000,"x":896,"y":56},{"s":1000,"x":924,"y":68},{"s":1000,"x":955,"y":55},{"s":1000,"x":1005,"y":5},{"s":1000,"x":1044,"y":-55},{"s":1000,"x":1084,"y":-86},{"s":1000,"x":1113,"y":-80},{"s":1000,"x":1162,"y":-40},{"s":1000,"x":1202,"y":0},{"s":1000,"x":1231,"y":11},{"s":1000,"x":1281,"y":-10},{"s":1000,"x":1340,"y":-50},{"s":1000,"x":1393,"y":-66},{"s":1000,"x":1448,"y":-45},{"s":1000,"x":1507,"y":-5},{"s":1000,"x":1556,"y":11},{"s":1000,"x":1586,"y":11},{"s":1000,"x":1635,"y":-10},{"s":1000,"x":1684,"y":-30},{"s":1000,"x":1728,"y":-36},{"s":1000,"x":1783,"y":-20},{"s":1000,"x":1842,"y":-2},{"s":1000,"x":1895,"y":4},{"s":1000,"x":1950,"y":-5},{"s":1000,"x":2009,"y":-18},{"s":1000,"x":2062,"y":-22},{"s":1000,"x":2128,"y":-10},{"s":1000,"x":2187,"y":0},{"s":1000,"x":2230,"y":3},{"s":1000,"x":2295,"y":-3},{"s":1000,"x":2364,"y":-9},{"s":1000,"x":2396,"y":-10},{"s":1000,"x":2463,"y":-4},{"s":1000,"x":2531,"y":1},{"s":1000,"x":2610,"y":-1},{"s":1000,"x":2709,"y":-4},{"s":1000,"x":2807,"y":0},{"s":1000,"x":2906,"y":-2},{"s":1000,"x":3000,"y":-1}
],
"dte":[
{"s":10,"x":2,"y":0},{"s":10,"x":150,"y":0},{"s":10,"x":200,"y":0.08},{"s":10,"x":230,"y":-0.25},{"s":10,"x":260,"y":0.05},{"s":10,"x":290,"y":-0.3},{"s":10,"x":330,"y":-0.1},{"s":10,"x":380,"y":0.1},{"s":10,"x":420,"y":-0.15},{"s":10,"x":470,"y":0.4},{"s":10,"x":500,"y":-0.05},{"s":10,"x":540,"y":0.2},{"s":10,"x":580,"y":-0.3},{"s":10,"x":620,"y":-0.15},{"s":10,"x":660,"y":0.3},{"s":10,"x":700,"y":0.05},{"s":10,"x":740,"y":0.35},{"s":10,"x":780,"y":-0.1},{"s":10,"x":820,"y":-0.25},{"s":10,"x":860,"y":0.1},{"s":10,"x":900,"y":-0.1},{"s":10,"x":940,"y":0.15},{"s":10,"x":1000,"y":-0.05},{"s":10,"x":1100,"y":0.1},{"s":10,"x":1200,"y":-0.05},{"s":10,"x":1300,"y":0.05},{"s":10,"x":1500,"y":-0.03},{"s":10,"x":1700,"y":0.05},{"s":10,"x":2000,"y":0.03},{"s":10,"x":2500,"y":0},{"s":10,"x":3000,"y":0},
{"s":50,"x":2,"y":0},{"s":50,"x":150,"y":0.02},{"s":50,"x":250,"y":-0.05},{"s":50,"x":350,"y":0.05},{"s":50,"x":450,"y":-0.08},{"s":50,"x":520,"y":0.1},{"s":50,"x":600,"y":-0.12},{"s":50,"x":680,"y":0.15},{"s":50,"x":760,"y":0.3},{"s":50,"x":800,"y":-0.1},{"s":50,"x":860,"y":0.08},{"s":50,"x":930,"y":-0.2},{"s":50,"x":1000,"y":0.1},{"s":50,"x":1080,"y":-0.12},{"s":50,"x":1150,"y":0.05},{"s":50,"x":1250,"y":-0.05},{"s":50,"x":1350,"y":0.04},{"s":50,"x":1500,"y":-0.03},{"s":50,"x":1700,"y":0.05},{"s":50,"x":2000,"y":0.02},{"s":50,"x":2500,"y":-0.02},{"s":50,"x":3000,"y":0},
{"s":100,"x":2,"y":0},{"s":100,"x":150,"y":-0.02},{"s":100,"x":250,"y":0.04},{"s":100,"x":350,"y":-0.05},{"s":100,"x":450,"y":0.08},{"s":100,"x":520,"y":-0.08},{"s":100,"x":600,"y":0.1},{"s":100,"x":680,"y":-0.1},{"s":100,"x":760,"y":0.15},{"s":100,"x":830,"y":-0.08},{"s":100,"x":900,"y":0.1},{"s":100,"x":980,"y":-0.08},{"s":100,"x":1080,"y":0.06},{"s":100,"x":1200,"y":-0.05},{"s":100,"x":1350,"y":0.06},{"s":100,"x":1500,"y":-0.03},{"s":100,"x":1700,"y":0.04},{"s":100,"x":2000,"y":0.02},{"s":100,"x":2500,"y":0.01},{"s":100,"x":3000,"y":0},
{"s":1000,"x":2,"y":0},{"s":1000,"x":150,"y":0.02},{"s":1000,"x":250,"y":-0.03},{"s":1000,"x":350,"y":0.06},{"s":1000,"x":450,"y":-0.05},{"s":1000,"x":520,"y":0.1},{"s":1000,"x":600,"y":-0.06},{"s":1000,"x":680,"y":0.12},{"s":1000,"x":760,"y":-0.08},{"s":1000,"x":830,"y":0.15},{"s":1000,"x":900,"y":-0.05},{"s":1000,"x":980,"y":0.08},{"s":1000,"x":1080,"y":-0.05},{"s":1000,"x":1200,"y":0.06},{"s":1000,"x":1350,"y":-0.04},{"s":1000,"x":1500,"y":0.05},{"s":1000,"x":1700,"y":0.02},{"s":1000,"x":2000,"y":0.04},{"s":1000,"x":2500,"y":0},{"s":1000,"x":3000,"y":0.01}
],
"pk":[
{"z":0,"s":10,"x":0.0001,"y":417},{"z":0,"s":10,"x":0.001,"y":2630},{"z":0,"s":10,"x":0.01,"y":16600},{"z":0,"s":10,"x":0.0158,"y":22400},{"z":0,"s":10,"x":0.0251,"y":29500},{"z":0,"s":10,"x":0.0398,"y":26900},{"z":0,"s":10,"x":0.0631,"y":21400},{"z":0,"s":10,"x":0.1,"y":13200},{"z":0,"s":10,"x":0.158,"y":6310},{"z":0,"s":10,"x":0.251,"y":2400},{"z":0,"s":10,"x":0.398,"y":832},{"z":0,"s":10,"x":1,"y":97.7},{"z":0,"s":10,"x":2.51,"y":11.5},{"z":0,"s":10,"x":6.31,"y":1.35},{"z":0,"s":10,"x":10,"y":0.457},
{"z":0,"s":50,"x":0.0001,"y":580},{"z":0,"s":50,"x":0.001,"y":3350},{"z":0,"s":50,"x":0.01,"y":19300},{"z":0,"s":50,"x":0.0158,"y":25000},{"z":0,"s":50,"x":0.0251,"y":28900},{"z":0,"s":50,"x":0.0398,"y":25400},{"z":0,"s":50,"x":0.0631,"y":18200},{"z":0,"s":50,"x":0.1,"y":9300},{"z":0,"s":50,"x":0.158,"y":3550},{"z":0,"s":50,"x":0.251,"y":1420},{"z":0,"s":50,"x":0.398,"y":505},{"z":0,"s":50,"x":1,"y":50.5},{"z":0,"s":50,"x":2.51,"y":5.05},{"z":0,"s":50,"x":6.31,"y":0.51},{"z":0,"s":50,"x":10,"y":0.16},
{"z":0,"s":100,"x":0.0001,"y":589},{"z":0,"s":100,"x":0.001,"y":3390},{"z":0,"s":100,"x":0.01,"y":19500},{"z":0,"s":100,"x":0.0158,"y":25100},{"z":0,"s":100,"x":0.0251,"y":28800},{"z":0,"s":100,"x":0.0398,"y":25100},{"z":0,"s":100,"x":0.0631,"y":17800},{"z":0,"s":100,"x":0.1,"y":8910},{"z":0,"s":100,"x":0.158,"y":3310},{"z":0,"s":100,"x":0.251,"y":1320},{"z":0,"s":100,"x":0.398,"y":468},{"z":0,"s":100,"x":1,"y":46.8},{"z":0,"s":100,"x":2.51,"y":4.68},{"z":0,"s":100,"x":6.31,"y":0.468},{"z":0,"s":100,"x":10,"y":0.148},
{"z":0,"s":1000,"x":0.0001,"y":600},{"z":0,"s":1000,"x":0.001,"y":3430},{"z":0,"s":1000,"x":0.01,"y":19700},{"z":0,"s":1000,"x":0.0158,"y":25300},{"z":0,"s":1000,"x":0.0251,"y":28700},{"z":0,"s":1000,"x":0.0398,"y":24900},{"z":0,"s":1000,"x":0.0631,"y":17600},{"z":0,"s":1000,"x":0.1,"y":8800},{"z":0,"s":1000,"x":0.158,"y":3270},{"z":0,"s":1000,"x":0.251,"y":1300},{"z":0,"s":1000,"x":0.398,"y":460},{"z":0,"s":1000,"x":1,"y":46},{"z":0,"s":1000,"x":2.51,"y":4.6},{"z":0,"s":1000,"x":6.31,"y":0.46},{"z":0,"s":1000,"x":10,"y":0.145},
{"z":0.5,"s":10,"x":0.0001,"y":251},{"z":0.5,"s":10,"x":0.001,"y":1510},{"z":0.5,"s":10,"x":0.01,"y":9330},{"z":0.5,"s":10,"x":0.0158,"y":12600},{"z":0.5,"s":10,"x":0.0251,"y":16600},{"z":0.5,"s":10,"x":0.0398,"y":14800},{"z":0.5,"s":10,"x":0.0631,"y":11500},{"z":0.5,"s":10,"x":0.1,"y":6920},{"z":0.5,"s":10,"x":0.158,"y":3550},{"z":0.5,"s":10,"x":0.251,"y":1450},{"z":0.5,"s":10,"x":0.398,"y":537},{"z":0.5,"s":10,"x":1,"y":70.8},{"z":0.5,"s":10,"x":2.51,"y":8.91},{"z":0.5,"s":10,"x":6.31,"y":1.07},{"z":0.5,"s":10,"x":10,"y":0.363},
{"z":0.5,"s":50,"x":0.0001,"y":305},{"z":0.5,"s":50,"x":0.001,"y":1840},{"z":0.5,"s":50,"x":0.01,"y":10900},{"z":0.5,"s":50,"x":0.0158,"y":14000},{"z":0.5,"s":50,"x":0.0251,"y":16300},{"z":0.5,"s":50,"x":0.0398,"y":14300},{"z":0.5,"s":50,"x":0.0631,"y":10000},{"z":0.5,"s":50,"x":0.1,"y":5050},{"z":0.5,"s":50,"x":0.158,"y":1990},{"z":0.5,"s":50,"x":0.251,"y":850},{"z":0.5,"s":50,"x":0.398,"y":323},{"z":0.5,"s":50,"x":1,"y":36.3},{"z":0.5,"s":50,"x":2.51,"y":3.88},{"z":0.5,"s":50,"x":6.31,"y":0.4},{"z":0.5,"s":50,"x":10,"y":0.125},
{"z":0.5,"s":100,"x":0.0001,"y":309},{"z":0.5,"s":100,"x":0.001,"y":1860},{"z":0.5,"s":100,"x":0.01,"y":11000},{"z":0.5,"s":100,"x":0.0158,"y":14100},{"z":0.5,"s":100,"x":0.0251,"y":16200},{"z":0.5,"s":100,"x":0.0398,"y":14100},{"z":0.5,"s":100,"x":0.0631,"y":9770},{"z":0.5,"s":100,"x":0.1,"y":4790},{"z":0.5,"s":100,"x":0.158,"y":1860},{"z":0.5,"s":100,"x":0.251,"y":794},{"z":0.5,"s":100,"x":0.398,"y":302},{"z":0.5,"s":100,"x":1,"y":33.9},{"z":0.5,"s":100,"x":2.51,"y":3.63},{"z":0.5,"s":100,"x":6.31,"y":0.372},{"z":0.5,"s":100,"x":10,"y":0.117},
{"z":0.5,"s":1000,"x":0.0001,"y":312},{"z":0.5,"s":1000,"x":0.001,"y":1880},{"z":0.5,"s":1000,"x":0.01,"y":11100},{"z":0.5,"s":1000,"x":0.0158,"y":14200},{"z":0.5,"s":1000,"x":0.0251,"y":16100},{"z":0.5,"s":1000,"x":0.0398,"y":14000},{"z":0.5,"s":1000,"x":0.0631,"y":9700},{"z":0.5,"s":1000,"x":0.1,"y":4740},{"z":0.5,"s":1000,"x":0.158,"y":1840},{"z":0.5,"s":1000,"x":0.251,"y":785},{"z":0.5,"s":1000,"x":0.398,"y":298},{"z":0.5,"s":1000,"x":1,"y":33.5},{"z":0.5,"s":1000,"x":2.51,"y":3.6},{"z":0.5,"s":1000,"x":6.31,"y":0.368},{"z":0.5,"s":1000,"x":10,"y":0.116},
{"z":1,"s":10,"x":0.0001,"y":123},{"z":1,"s":10,"x":0.001,"y":832},{"z":1,"s":10,"x":0.01,"y":5620},{"z":1,"s":10,"x":0.0158,"y":7590},{"z":1,"s":10,"x":0.0251,"y":10200},{"z":1,"s":10,"x":0.0398,"y":9330},{"z":1,"s":10,"x":0.0631,"y":7410},{"z":1,"s":10,"x":0.1,"y":4570},{"z":1,"s":10,"x":0.158,"y":2240},{"z":1,"s":10,"x":0.251,"y":851},{"z":1,"s":10,"x":0.398,"y":302},{"z":1,"s":10,"x":1,"y":36.3},{"z":1,"s":10,"x":2.51,"y":4.27},{"z":1,"s":10,"x":6.31,"y":0.501},{"z":1,"s":10,"x":10,"y":0.17},
{"z":1,"s":50,"x":0.0001,"y":206},{"z":1,"s":50,"x":0.001,"y":1190},{"z":1,"s":50,"x":0.01,"y":6860},{"z":1,"s":50,"x":0.0158,"y":8850},{"z":1,"s":50,"x":0.0251,"y":10200},{"z":1,"s":50,"x":0.0398,"y":9020},{"z":1,"s":50,"x":0.0631,"y":6480},{"z":1,"s":50,"x":0.1,"y":3350},{"z":1,"s":50,"x":0.158,"y":1250},{"z":1,"s":50,"x":0.251,"y":500},{"z":1,"s":50,"x":0.398,"y":178},{"z":1,"s":50,"x":1,"y":17.8},{"z":1,"s":50,"x":2.51,"y":1.78},{"z":1,"s":50,"x":6.31,"y":0.178},{"z":1,"s":50,"x":10,"y":0.056},
{"z":1,"s":100,"x":0.0001,"y":209},{"z":1,"s":100,"x":0.001,"y":1200},{"z":1,"s":100,"x":0.01,"y":6920},{"z":1,"s":100,"x":0.0158,"y":8910},{"z":1,"s":100,"x":0.0251,"y":10200},{"z":1,"s":100,"x":0.0398,"y":8910},{"z":1,"s":100,"x":0.0631,"y":6310},{"z":1,"s":100,"x":0.1,"y":3160},{"z":1,"s":100,"x":0.158,"y":1170},{"z":1,"s":100,"x":0.251,"y":468},{"z":1,"s":100,"x":0.398,"y":166},{"z":1,"s":100,"x":1,"y":16.6},{"z":1,"s":100,"x":2.51,"y":1.66},{"z":1,"s":100,"x":6.31,"y":0.166},{"z":1,"s":100,"x":10,"y":0.0525},
{"z":1,"s":1000,"x":0.0001,"y":211},{"z":1,"s":1000,"x":0.001,"y":1210},{"z":1,"s":1000,"x":0.01,"y":6980},{"z":1,"s":1000,"x":0.0158,"y":8960},{"z":1,"s":1000,"x":0.0251,"y":10150},{"z":1,"s":1000,"x":0.0398,"y":8870},{"z":1,"s":1000,"x":0.0631,"y":6260},{"z":1,"s":1000,"x":0.1,"y":3130},{"z":1,"s":1000,"x":0.158,"y":1160},{"z":1,"s":1000,"x":0.251,"y":463},{"z":1,"s":1000,"x":0.398,"y":164},{"z":1,"s":1000,"x":1,"y":16.4},{"z":1,"s":1000,"x":2.51,"y":1.64},{"z":1,"s":1000,"x":6.31,"y":0.164},{"z":1,"s":1000,"x":10,"y":0.052},
{"z":2,"s":10,"x":0.0001,"y":63.1},{"z":2,"s":10,"x":0.001,"y":389},{"z":2,"s":10,"x":0.01,"y":2450},{"z":2,"s":10,"x":0.0158,"y":3310},{"z":2,"s":10,"x":0.0251,"y":4370},{"z":2,"s":10,"x":0.0398,"y":3980},{"z":2,"s":10,"x":0.0631,"y":3160},{"z":2,"s":10,"x":0.1,"y":1950},{"z":2,"s":10,"x":0.158,"y":955},{"z":2,"s":10,"x":0.251,"y":372},{"z":2,"s":10,"x":0.398,"y":135},{"z":2,"s":10,"x":1,"y":17.4},{"z":2,"s":10,"x":2.51,"y":2.19},{"z":2,"s":10,"x":6.31,"y":0.263},{"z":2,"s":10,"x":10,"y":0.0891},
{"z":2,"s":50,"x":0.0001,"y":104},{"z":2,"s":50,"x":0.001,"y":570},{"z":2,"s":50,"x":0.01,"y":3070},{"z":2,"s":50,"x":0.0158,"y":3960},{"z":2,"s":50,"x":0.0251,"y":4480},{"z":2,"s":50,"x":0.0398,"y":3930},{"z":2,"s":50,"x":0.0631,"y":2830},{"z":2,"s":50,"x":0.1,"y":1460},{"z":2,"s":50,"x":0.158,"y":560},{"z":2,"s":50,"x":0.251,"y":229},{"z":2,"s":50,"x":0.398,"y":87},{"z":2,"s":50,"x":1,"y":9.1},{"z":2,"s":50,"x":2.51,"y":0.95},{"z":2,"s":50,"x":6.31,"y":0.095},{"z":2,"s":50,"x":10,"y":0.03},
{"z":2,"s":100,"x":0.0001,"y":105},{"z":2,"s":100,"x":0.001,"y":575},{"z":2,"s":100,"x":0.01,"y":3090},{"z":2,"s":100,"x":0.0158,"y":3980},{"z":2,"s":100,"x":0.0251,"y":4470},{"z":2,"s":100,"x":0.0398,"y":3890},{"z":2,"s":100,"x":0.0631,"y":2750},{"z":2,"s":100,"x":0.1,"y":1380},{"z":2,"s":100,"x":0.158,"y":525},{"z":2,"s":100,"x":0.251,"y":214},{"z":2,"s":100,"x":0.398,"y":81.3},{"z":2,"s":100,"x":1,"y":8.51},{"z":2,"s":100,"x":2.51,"y":0.891},{"z":2,"s":100,"x":6.31,"y":0.0891},{"z":2,"s":100,"x":10,"y":0.0282},
{"z":2,"s":1000,"x":0.0001,"y":106},{"z":2,"s":1000,"x":0.001,"y":580},{"z":2,"s":1000,"x":0.01,"y":3110},{"z":2,"s":1000,"x":0.0158,"y":4000},{"z":2,"s":1000,"x":0.0251,"y":4460},{"z":2,"s":1000,"x":0.0398,"y":3870},{"z":2,"s":1000,"x":0.0631,"y":2730},{"z":2,"s":1000,"x":0.1,"y":1370},{"z":2,"s":1000,"x":0.158,"y":520},{"z":2,"s":1000,"x":0.251,"y":212},{"z":2,"s":1000,"x":0.398,"y":80.5},{"z":2,"s":1000,"x":1,"y":8.4},{"z":2,"s":1000,"x":2.51,"y":0.88},{"z":2,"s":1000,"x":6.31,"y":0.088},{"z":2,"s":1000,"x":10,"y":0.028}
],
"dpk":[
{"z":0,"s":10,"x":0.0001,"y":0.02},{"z":0,"s":10,"x":0.001,"y":0.02},{"z":0,"s":10,"x":0.01,"y":0.01},{"z":0,"s":10,"x":0.06,"y":0},{"z":0,"s":10,"x":0.085,"y":0.06},{"z":0,"s":10,"x":0.11,"y":0.1},{"z":0,"s":10,"x":0.14,"y":0.1},{"z":0,"s":10,"x":0.17,"y":0.02},{"z":0,"s":10,"x":0.3,"y":0},{"z":0,"s":10,"x":1,"y":-0.01},{"z":0,"s":10,"x":10,"y":-0.01},
{"z":0.5,"s":10,"x":0.0001,"y":-0.2},{"z":0.5,"s":10,"x":0.0002,"y":-0.19},{"z":0.5,"s":10,"x":0.0004,"y":-0.14},{"z":0.5,"s":10,"x":0.0007,"y":-0.06},{"z":0.5,"s":10,"x":0.001,"y":-0.02},{"z":0.5,"s":10,"x":0.003,"y":0},{"z":0.5,"s":10,"x":0.06,"y":0},{"z":0.5,"s":10,"x":0.085,"y":0.06},{"z":0.5,"s":10,"x":0.11,"y":0.1},{"z":0.5,"s":10,"x":0.14,"y":0.1},{"z":0.5,"s":10,"x":0.17,"y":0.02},{"z":0.5,"s":10,"x":0.3,"y":0},{"z":0.5,"s":10,"x":1,"y":-0.01},{"z":0.5,"s":10,"x":10,"y":-0.01},
{"z":1,"s":10,"x":0.0001,"y":-0.15},{"z":1,"s":10,"x":0.0003,"y":-0.13},{"z":1,"s":10,"x":0.0007,"y":-0.06},{"z":1,"s":10,"x":0.001,"y":-0.02},{"z":1,"s":10,"x":0.003,"y":0},{"z":1,"s":10,"x":0.06,"y":0},{"z":1,"s":10,"x":0.085,"y":0.06},{"z":1,"s":10,"x":0.11,"y":0.1},{"z":1,"s":10,"x":0.14,"y":0.1},{"z":1,"s":10,"x":0.17,"y":0.02},{"z":1,"s":10,"x":0.3,"y":0},{"z":1,"s":10,"x":1,"y":-0.01},{"z":1,"s":10,"x":10,"y":-0.01},
{"z":2,"s":10,"x":0.0001,"y":0.01},{"z":2,"s":10,"x":0.001,"y":0.01},{"z":2,"s":10,"x":0.01,"y":0},{"z":2,"s":10,"x":0.06,"y":0},{"z":2,"s":10,"x":0.085,"y":0.05},{"z":2,"s":10,"x":0.11,"y":0.09},{"z":2,"s":10,"x":0.14,"y":0.08},{"z":2,"s":10,"x":0.17,"y":0.02},{"z":2,"s":10,"x":0.3,"y":0},{"z":2,"s":10,"x":1,"y":-0.01},{"z":2,"s":10,"x":10,"y":-0.01},
{"z":0,"s":50,"x":0.0001,"y":0.02},{"z":0,"s":50,"x":0.06,"y":0},{"z":0,"s":50,"x":0.08,"y":0.07},{"z":0,"s":50,"x":0.1,"y":0.09},{"z":0,"s":50,"x":0.12,"y":0.05},{"z":0,"s":50,"x":0.16,"y":-0.03},{"z":0,"s":50,"x":0.3,"y":-0.02},{"z":0,"s":50,"x":10,"y":-0.02},
{"z":0.5,"s":50,"x":0.0001,"y":0.02},{"z":0.5,"s":50,"x":0.06,"y":0},{"z":0.5,"s":50,"x":0.08,"y":0.07},{"z":0.5,"s":50,"x":0.1,"y":0.09},{"z":0.5,"s":50,"x":0.12,"y":0.05},{"z":0.5,"s":50,"x":0.16,"y":-0.03},{"z":0.5,"s":50,"x":0.3,"y":-0.02},{"z":0.5,"s":50,"x":10,"y":-0.02},
{"z":1,"s":50,"x":0.0001,"y":0.02},{"z":1,"s":50,"x":0.06,"y":0},{"z":1,"s":50,"x":0.08,"y":0.07},{"z":1,"s":50,"x":0.1,"y":0.09},{"z":1,"s":50,"x":0.12,"y":0.05},{"z":1,"s":50,"x":0.16,"y":-0.03},{"z":1,"s":50,"x":0.3,"y":-0.02},{"z":1,"s":50,"x":10,"y":-0.02},
{"z":2,"s":50,"x":0.0001,"y":0.02},{"z":2,"s":50,"x":0.06,"y":0},{"z":2,"s":50,"x":0.08,"y":0.07},{"z":2,"s":50,"x":0.1,"y":0.09},{"z":2,"s":50,"x":0.12,"y":0.05},{"z":2,"s":50,"x":0.16,"y":-0.03},{"z":2,"s":50,"x":0.3,"y":-0.02},{"z":2,"s":50,"x":10,"y":-0.02},
{"z":0,"s":100,"x":0.0001,"y":0.03},{"z":0,"s":100,"x":0.06,"y":0},{"z":0,"s":100,"x":0.1,"y":0.02},{"z":0,"s":100,"x":0.15,"y":-0.02},{"z":0,"s":100,"x":0.25,"y":-0.04},{"z":0,"s":100,"x":0.5,"y":-0.01},{"z":0,"s":100,"x":10,"y":-0.03},
{"z":0.5,"s":100,"x":0.0001,"y":0.03},{"z":0.5,"s":100,"x":0.06,"y":0},{"z":0.5,"s":100,"x":0.1,"y":0.02},{"z":0.5,"s":100,"x":0.15,"y":-0.02},{"z":0.5,"s":100,"x":0.25,"y":-0.04},{"z":0.5,"s":100,"x":0.5,"y":-0.01},{"z":0.5,"s":100,"x":10,"y":-0.03},
{"z":1,"s":100,"x":0.0001,"y":0.03},{"z":1,"s":100,"x":0.06,"y":0},{"z":1,"s":100,"x":0.1,"y":0.02},{"z":1,"s":100,"x":0.15,"y":-0.02},{"z":1,"s":100,"x":0.25,"y":-0.04},{"z":1,"s":100,"x":0.5,"y":-0.01},{"z":1,"s":100,"x":10,"y":-0.03},
{"z":2,"s":100,"x":0.0001,"y":0.03},{"z":2,"s":100,"x":0.06,"y":0},{"z":2,"s":100,"x":0.1,"y":0.02},{"z":2,"s":100,"x":0.15,"y":-0.02},{"z":2,"s":100,"x":0.25,"y":-0.04},{"z":2,"s":100,"x":0.5,"y":-0.01},{"z":2,"s":100,"x":10,"y":-0.03},
{"z":0,"s":1000,"x":0.0001,"y":0},{"z":0,"s":1000,"x":0.06,"y":-0.01},{"z":0,"s":1000,"x":0.1,"y":0.03},{"z":0,"s":1000,"x":0.13,"y":-0.05},{"z":0,"s":1000,"x":0.2,"y":0.01},{"z":0,"s":1000,"x":0.3,"y":-0.06},{"z":0,"s":1000,"x":0.5,"y":-0.01},{"z":0,"s":1000,"x":0.8,"y":-0.06},{"z":0,"s":1000,"x":2,"y":-0.03},{"z":0,"s":1000,"x":10,"y":-0.04},
{"z":0.5,"s":1000,"x":0.0001,"y":0},{"z":0.5,"s":1000,"x":0.06,"y":-0.01},{"z":0.5,"s":1000,"x":0.1,"y":0.03},{"z":0.5,"s":1000,"x":0.13,"y":-0.05},{"z":0.5,"s":1000,"x":0.2,"y":0.01},{"z":0.5,"s":1000,"x":0.3,"y":-0.06},{"z":0.5,"s":1000,"x":0.5,"y":-0.01},{"z":0.5,"s":1000,"x":0.8,"y":-0.06},{"z":0.5,"s":1000,"x":2,"y":-0.03},{"z":0.5,"s":1000,"x":10,"y":-0.04},
{"z":1,"s":1000,"x":0.0001,"y":0},{"z":1,"s":1000,"x":0.06,"y":-0.01},{"z":1,"s":1000,"x":0.1,"y":0.03},{"z":1,"s":1000,"x":0.13,"y":-0.05},{"z":1,"s":1000,"x":0.2,"y":0.01},{"z":1,"s":1000,"x":0.3,"y":-0.06},{"z":1,"s":1000,"x":0.5,"y":-0.01},{"z":1,"s":1000,"x":0.8,"y":-0.06},{"z":1,"s":1000,"x":2,"y":-0.03},{"z":1,"s":1000,"x":10,"y":-0.04},
{"z":2,"s":1000,"x":0.0001,"y":0},{"z":2,"s":1000,"x":0.06,"y":-0.01},{"z":2,"s":1000,"x":0.1,"y":0.03},{"z":2,"s":1000,"x":0.13,"y":-0.05},{"z":2,"s":1000,"x":0.2,"y":0.01},{"z":2,"s":1000,"x":0.3,"y":-0.06},{"z":2,"s":1000,"x":0.5,"y":-0.01},{"z":2,"s":1000,"x":0.8,"y":-0.06},{"z":2,"s":1000,"x":2,"y":-0.03},{"z":2,"s":1000,"x":10,"y":-0.04}
]
},
"spacing":15,
"resolve":{"legend":{"color":"independent","strokeDash":"independent"}},
"vconcat":[
{"columns":2,"spacing":0,"bounds":"flush","align":"each","resolve":{"legend":{"color":"independent","strokeDash":"independent"}},"concat":[
  {"width":236,"height":114,"resolve":{"axis":{"x":"independent","y":"independent"}},"layer":[
   {"data":{"name":"tt"},"mark":{"type":"line","clip":true,"interpolate":"monotone"},
   "encoding":{
    "x":{"field":"x","type":"quantitative","scale":{"type":"log","domain":[2,3000],"nice":false},"axis":{"tickCount":40,"labels":false,"title":null,"tickSize":{"condition":{"test":"indexof([10,100,1000],datum.value)>=0","value":-5},"value":-2.5}}},
    "y":{"field":"y","type":"quantitative","scale":{"domain":[0,6500],"nice":false},"axis":{"tickCount":20,"values":[0,2000,4000,6000],"format":"d","labelOverlap":false,"title":"Dₗᵀᵀ [μK²]"}},
    "color":{"field":"s","type":"nominal","scale":{"domain":[10,50,100,1000],"range":["#0f1b7f","#2e93ea","#f7a51c","#3ccc3c"]},"legend":{"orient":"none","legendX":8,"legendY":5,"title":null,"labelExpr":"'ωBD = '+datum.label"}},
    "strokeDash":{"field":"s","type":"nominal","scale":{"domain":[10,50,100,1000],"range":[[1,0],[8,3,2,3],[5,2,1.5,2],[3.5,3]]},"legend":{"orient":"none","legendX":8,"legendY":5,"title":null,"labelExpr":"'ωBD = '+datum.label"}}}},
   {"data":{"values":[{}]},"mark":{"type":"point","opacity":0},"encoding":{
    "x":{"datum":10,"axis":{"orient":"top","tickCount":40,"labels":false,"title":null,"tickSize":{"condition":{"test":"indexof([10,100,1000],datum.value)>=0","value":-5},"value":-2.5}}},
    "y":{"datum":1000,"axis":{"orient":"right","tickCount":20,"values":[0,2000,4000,6000],"labels":false,"title":null}}}}]},
  {"width":235,"height":114,"resolve":{"axis":{"x":"independent","y":"independent"}},"layer":[
   {"data":{"name":"ee"},"mark":{"type":"line","clip":true,"interpolate":"monotone"},
   "encoding":{
    "x":{"field":"x","type":"quantitative","scale":{"domain":[2,3000],"nice":false},"axis":{"tickCount":20,"values":[2,1000,2000,3000],"labels":false,"title":null}},
    "y":{"field":"y","type":"quantitative","scale":{"domain":[-0.6,49.5],"nice":false,"zero":false},"axis":{"orient":"right","tickCount":20,"values":[0,10,20,30,40],"labelOverlap":false,"title":"Dₗᴱᴱ [μK²]"}},
    "color":{"field":"s","type":"nominal","scale":{"domain":[10,50,100,1000],"range":["#0f1b7f","#2e93ea","#f7a51c","#3ccc3c"]},"legend":null},
    "strokeDash":{"field":"s","type":"nominal","scale":{"domain":[10,50,100,1000],"range":[[1,0],[8,3,2,3],[5,2,1.5,2],[3.5,3]]},"legend":null}}},
   {"data":{"values":[{}]},"mark":{"type":"point","opacity":0},"encoding":{
    "x":{"datum":1000,"axis":{"orient":"top","tickCount":20,"values":[1000,2000],"labels":false,"title":null}},
    "y":{"datum":10,"axis":{"orient":"left","tickCount":20,"values":[0,10,20,30,40],"labels":false,"title":null}}}}]},
  {"width":236,"height":48,"resolve":{"axis":{"x":"independent","y":"independent"}},"layer":[
   {"data":{"values":[{}]},"mark":{"type":"rule","color":"#aaaaaa","strokeWidth":1},"encoding":{"y":{"datum":0,"axis":null}}},
   {"data":{"name":"dtt"},"mark":{"type":"line","clip":true},
   "encoding":{
    "x":{"field":"x","type":"quantitative","scale":{"type":"log","domain":[2,3000],"nice":false},"axis":{"tickCount":40,"labels":false,"title":null,"tickSize":{"condition":{"test":"indexof([10,100,1000],datum.value)>=0","value":-5},"value":-2.5}}},
    "y":{"field":"y","type":"quantitative","scale":{"domain":[-1,1],"nice":false},"axis":{"tickCount":20,"values":[-0.5,0,0.5],"format":".1f","labelOverlap":false,"title":"δDₗᵀᵀ/Dₗᵀᵀ [%]"}},
    "color":{"field":"s","type":"nominal","scale":{"domain":[10,50,100,1000],"range":["#0f1b7f","#2e93ea","#f7a51c","#3ccc3c"]},"legend":null},
    "strokeDash":{"field":"s","type":"nominal","scale":{"domain":[10,50,100,1000],"range":[[1,0],[8,3,2,3],[5,2,1.5,2],[3.5,3]]},"legend":null}}},
   {"data":{"values":[{}]},"mark":{"type":"point","opacity":0},"encoding":{
    "x":{"datum":10,"axis":{"orient":"top","tickCount":40,"labels":false,"title":null,"tickSize":{"condition":{"test":"indexof([10,100,1000],datum.value)>=0","value":-5},"value":-2.5}}},
    "y":{"datum":0,"axis":{"orient":"right","tickCount":20,"values":[-0.5,0,0.5],"labels":false,"title":null}}}}]},
  {"width":235,"height":48,"resolve":{"axis":{"x":"independent","y":"independent"}},"layer":[
   {"data":{"values":[{}]},"mark":{"type":"rule","color":"#aaaaaa","strokeWidth":1},"encoding":{"y":{"datum":0,"axis":null}}},
   {"data":{"name":"dee"},"mark":{"type":"line","clip":true},
   "encoding":{
    "x":{"field":"x","type":"quantitative","scale":{"domain":[2,3000],"nice":false},"axis":{"tickCount":20,"values":[2,1000,2000,3000],"labels":false,"title":null}},
    "y":{"field":"y","type":"quantitative","scale":{"domain":[-1,1],"nice":false},"axis":{"orient":"right","tickCount":20,"values":[-0.5,0,0.5],"format":".1f","labelOverlap":false,"title":"δDₗᴱᴱ/Dₗᴱᴱ [%]"}},
    "color":{"field":"s","type":"nominal","scale":{"domain":[10,50,100,1000],"range":["#0f1b7f","#2e93ea","#f7a51c","#3ccc3c"]},"legend":null},
    "strokeDash":{"field":"s","type":"nominal","scale":{"domain":[10,50,100,1000],"range":[[1,0],[8,3,2,3],[5,2,1.5,2],[3.5,3]]},"legend":null}}},
   {"data":{"values":[{}]},"mark":{"type":"point","opacity":0},"encoding":{
    "x":{"datum":1000,"axis":{"orient":"top","tickCount":20,"values":[1000,2000],"labels":false,"title":null}},
    "y":{"datum":0,"axis":{"orient":"left","tickCount":20,"values":[-0.5,0,0.5],"labels":false,"title":null}}}}]},
  {"width":236,"height":114,"resolve":{"axis":{"x":"independent","y":"independent"}},"layer":[
   {"data":{"name":"pp"},"mark":{"type":"line","clip":true,"interpolate":"monotone"},
   "encoding":{
    "x":{"field":"x","type":"quantitative","scale":{"type":"log","domain":[2,3000],"nice":false},"axis":{"tickCount":40,"labels":false,"title":null,"tickSize":{"condition":{"test":"indexof([10,100,1000],datum.value)>=0","value":-5},"value":-2.5}}},
    "y":{"field":"y","type":"quantitative","scale":{"domain":[-0.05,2.2],"nice":false,"zero":false},"axis":{"tickCount":20,"values":[0,0.5,1,1.5,2],"format":".1f","labelOverlap":false,"title":"10⁷ × Dₗᵠᵠ [μK²]"}},
    "color":{"field":"s","type":"nominal","scale":{"domain":[10,50,100,1000],"range":["#0f1b7f","#2e93ea","#f7a51c","#3ccc3c"]},"legend":null},
    "strokeDash":{"field":"s","type":"nominal","scale":{"domain":[10,50,100,1000],"range":[[1,0],[8,3,2,3],[5,2,1.5,2],[3.5,3]]},"legend":null}}},
   {"data":{"values":[{}]},"mark":{"type":"point","opacity":0},"encoding":{
    "x":{"datum":10,"axis":{"orient":"top","tickCount":40,"labels":false,"title":null,"tickSize":{"condition":{"test":"indexof([10,100,1000],datum.value)>=0","value":-5},"value":-2.5}}},
    "y":{"datum":1,"axis":{"orient":"right","tickCount":20,"values":[0,0.5,1,1.5,2],"labels":false,"title":null}}}}]},
  {"width":235,"height":114,"resolve":{"axis":{"x":"independent","y":"independent"}},"layer":[
   {"data":{"name":"te"},"mark":{"type":"line","clip":true,"interpolate":"monotone"},
   "encoding":{
    "x":{"field":"x","type":"quantitative","scale":{"domain":[2,3000],"nice":false},"axis":{"tickCount":20,"values":[2,1000,2000,3000],"labels":false,"title":null}},
    "y":{"field":"y","type":"quantitative","scale":{"domain":[-150,150],"nice":false},"axis":{"orient":"right","tickCount":20,"values":[-100,-50,0,50,100],"format":"d","labelFontSize":9.5,"labelOverlap":"greedy","labelSeparation":0,"title":"Dₗᵀᴱ [μK²]"}},
    "color":{"field":"s","type":"nominal","scale":{"domain":[10,50,100,1000],"range":["#0f1b7f","#2e93ea","#f7a51c","#3ccc3c"]},"legend":null},
    "strokeDash":{"field":"s","type":"nominal","scale":{"domain":[10,50,100,1000],"range":[[1,0],[8,3,2,3],[5,2,1.5,2],[3.5,3]]},"legend":null}}},
   {"data":{"values":[{}]},"mark":{"type":"point","opacity":0},"encoding":{
    "x":{"datum":1000,"axis":{"orient":"top","tickCount":20,"values":[1000,2000],"labels":false,"title":null}},
    "y":{"datum":0,"axis":{"orient":"left","tickCount":20,"values":[-100,-50,0,50,100],"labels":false,"title":null}}}}]},
  {"width":236,"height":47,"resolve":{"axis":{"x":"independent","y":"independent"}},"layer":[
   {"data":{"values":[{}]},"mark":{"type":"rule","color":"#aaaaaa","strokeWidth":1},"encoding":{"y":{"datum":0,"axis":null}}},
   {"data":{"name":"dpp"},"mark":{"type":"line","clip":true},
   "encoding":{
    "x":{"field":"x","type":"quantitative","scale":{"type":"log","domain":[2,3000],"nice":false},"axis":{"tickCount":40,"labelExpr":"datum.value==10?'10¹':datum.value==100?'10²':datum.value==1000?'10³':''","title":"Multipole ℓ","tickSize":{"condition":{"test":"indexof([10,100,1000],datum.value)>=0","value":-5},"value":-2.5}}},
    "y":{"field":"y","type":"quantitative","scale":{"domain":[-1,1],"nice":false},"axis":{"tickCount":20,"values":[-0.5,0,0.5],"format":".1f","labelOverlap":false,"title":"δDₗᵠᵠ/Dₗᵠᵠ [%]"}},
    "color":{"field":"s","type":"nominal","scale":{"domain":[10,50,100,1000],"range":["#0f1b7f","#2e93ea","#f7a51c","#3ccc3c"]},"legend":null},
    "strokeDash":{"field":"s","type":"nominal","scale":{"domain":[10,50,100,1000],"range":[[1,0],[8,3,2,3],[5,2,1.5,2],[3.5,3]]},"legend":null}}},
   {"data":{"values":[{}]},"mark":{"type":"point","opacity":0},"encoding":{
    "x":{"datum":10,"axis":{"orient":"top","tickCount":40,"labels":false,"title":null,"tickSize":{"condition":{"test":"indexof([10,100,1000],datum.value)>=0","value":-5},"value":-2.5}}},
    "y":{"datum":0,"axis":{"orient":"right","tickCount":20,"values":[-0.5,0,0.5],"labels":false,"title":null}}}}]},
  {"width":235,"height":47,"resolve":{"axis":{"x":"independent","y":"independent"}},"layer":[
   {"data":{"values":[{}]},"mark":{"type":"rule","color":"#aaaaaa","strokeWidth":1},"encoding":{"y":{"datum":0,"axis":null}}},
   {"data":{"name":"dte"},"mark":{"type":"line","clip":true},
   "encoding":{
    "x":{"field":"x","type":"quantitative","scale":{"domain":[2,3000],"nice":false},"axis":{"tickCount":20,"values":[2,1000,2000,3000],"format":"d","title":"Multipole ℓ"}},
    "y":{"field":"y","type":"quantitative","scale":{"domain":[-1,1],"nice":false},"axis":{"orient":"right","tickCount":20,"values":[-0.5,0,0.5],"format":".1f","labelOverlap":false,"title":"δDₗᵀᴱ [μK²]"}},
    "color":{"field":"s","type":"nominal","scale":{"domain":[10,50,100,1000],"range":["#0f1b7f","#2e93ea","#f7a51c","#3ccc3c"]},"legend":null},
    "strokeDash":{"field":"s","type":"nominal","scale":{"domain":[10,50,100,1000],"range":[[1,0],[8,3,2,3],[5,2,1.5,2],[3.5,3]]},"legend":null}}},
   {"data":{"values":[{}]},"mark":{"type":"point","opacity":0},"encoding":{
    "x":{"datum":1000,"axis":{"orient":"top","tickCount":20,"values":[1000,2000],"labels":false,"title":null}},
    "y":{"datum":0,"axis":{"orient":"left","tickCount":20,"values":[-0.5,0,0.5],"labels":false,"title":null}}}}]}
]},
{"columns":2,"spacing":0,"bounds":"flush","align":"each","resolve":{"legend":{"color":"independent","strokeDash":"independent"}},"concat":[
  {"width":229,"height":113,"resolve":{"axis":{"x":"independent","y":"independent"}},"layer":[
   {"data":{"name":"pk"},"transform":[{"filter":"datum.z==0"}],"mark":{"type":"line","clip":true},
   "encoding":{
    "x":{"field":"x","type":"quantitative","scale":{"type":"log","domain":[0.0001,10],"nice":false},"axis":{"tickCount":40,"labels":false,"title":null,"tickSize":{"condition":{"test":"indexof([0.0001,0.001,0.01,0.1,1,10],datum.value)>=0","value":-5},"value":-2.5}}},
    "y":{"field":"y","type":"quantitative","scale":{"type":"log","domain":[1,100000],"nice":false},"axis":{"tickCount":20,"values":[1,10,100,1000,10000,100000],"labelOverlap":false,"labelExpr":"datum.value==1?'10⁰':datum.value==10?'10¹':datum.value==100?'10²':datum.value==1000?'10³':datum.value==10000?'10⁴':'10⁵'","title":"P(k)[(h⁻¹ Mpc)³]"}},
    "color":{"field":"s","type":"nominal","scale":{"domain":[10,50,100,1000],"range":["#0f1b7f","#2e93ea","#f7a51c","#3ccc3c"]},"legend":{"orient":"none","legendX":72,"legendY":43,"title":null,"labelExpr":"'ωBD = '+datum.label"}},
    "strokeDash":{"field":"s","type":"nominal","scale":{"domain":[10,50,100,1000],"range":[[1,0],[8,3,2,3],[5,2,1.5,2],[3.5,3]]},"legend":{"orient":"none","legendX":72,"legendY":43,"title":null,"labelExpr":"'ωBD = '+datum.label"}}}},
   {"data":{"values":[{"t":"z=0"}]},"mark":{"type":"text","font":"Liberation Serif","fontSize":11,"align":"left","baseline":"middle"},"encoding":{"x":{"datum":0.0002,"axis":null},"y":{"datum":14500,"axis":null},"text":{"field":"t"}}},
   {"data":{"values":[{}]},"mark":{"type":"point","opacity":0},"encoding":{
    "x":{"datum":0.01,"axis":{"orient":"top","tickCount":40,"labels":false,"title":null,"tickSize":{"condition":{"test":"indexof([0.0001,0.001,0.01,0.1,1,10],datum.value)>=0","value":-5},"value":-2.5}}},
    "y":{"datum":100,"axis":{"orient":"right","tickCount":20,"values":[1,10,100,1000,10000,100000],"labels":false,"title":null}}}}]},
  {"width":227,"height":113,"resolve":{"axis":{"x":"independent","y":"independent"}},"layer":[
   {"data":{"name":"pk"},"transform":[{"filter":"datum.z==0.5"}],"mark":{"type":"line","clip":true},
   "encoding":{
    "x":{"field":"x","type":"quantitative","scale":{"type":"log","domain":[0.0001,10],"nice":false},"axis":{"tickCount":40,"labels":false,"title":null,"tickSize":{"condition":{"test":"indexof([0.0001,0.001,0.01,0.1,1,10],datum.value)>=0","value":-5},"value":-2.5}}},
    "y":{"field":"y","type":"quantitative","scale":{"type":"log","domain":[1,100000],"nice":false},"axis":{"orient":"right","tickCount":20,"values":[1,10,100,1000,10000,100000],"labelOverlap":false,"labelExpr":"datum.value==1?'10⁰':datum.value==10?'10¹':datum.value==100?'10²':datum.value==1000?'10³':datum.value==10000?'10⁴':'10⁵'","title":"P(k)[(h⁻¹ Mpc)³]"}},
    "color":{"field":"s","type":"nominal","scale":{"domain":[10,50,100,1000],"range":["#0f1b7f","#2e93ea","#f7a51c","#3ccc3c"]},"legend":null},
    "strokeDash":{"field":"s","type":"nominal","scale":{"domain":[10,50,100,1000],"range":[[1,0],[8,3,2,3],[5,2,1.5,2],[3.5,3]]},"legend":null}}},
   {"data":{"values":[{"t":"z=0.5"}]},"mark":{"type":"text","font":"Liberation Serif","fontSize":11,"align":"left","baseline":"middle"},"encoding":{"x":{"datum":0.0002,"axis":null},"y":{"datum":14500,"axis":null},"text":{"field":"t"}}},
   {"data":{"values":[{}]},"mark":{"type":"point","opacity":0},"encoding":{
    "x":{"datum":0.01,"axis":{"orient":"top","tickCount":40,"labels":false,"title":null,"tickSize":{"condition":{"test":"indexof([0.0001,0.001,0.01,0.1,1,10],datum.value)>=0","value":-5},"value":-2.5}}},
    "y":{"datum":100,"axis":{"orient":"left","tickCount":20,"values":[1,10,100,1000,10000,100000],"labels":false,"title":null}}}}]},
  {"width":229,"height":44,"resolve":{"axis":{"x":"independent","y":"independent"}},"layer":[
   {"data":{"name":"dpk"},"transform":[{"filter":"datum.z==0"}],"mark":{"type":"line","clip":true},
   "encoding":{
    "x":{"field":"x","type":"quantitative","scale":{"type":"log","domain":[0.0001,10],"nice":false},"axis":{"tickCount":40,"labels":false,"title":null,"tickSize":{"condition":{"test":"indexof([0.0001,0.001,0.01,0.1,1,10],datum.value)>=0","value":-5},"value":-2.5}}},
    "y":{"field":"y","type":"quantitative","scale":{"domain":[-1,1],"nice":false},"axis":{"tickCount":20,"values":[-0.5,0,0.5],"format":".1f","labelOverlap":false,"title":"δP(k)/P(k) [%]"}},
    "color":{"field":"s","type":"nominal","scale":{"domain":[10,50,100,1000],"range":["#0f1b7f","#2e93ea","#f7a51c","#3ccc3c"]},"legend":null},
    "strokeDash":{"field":"s","type":"nominal","scale":{"domain":[10,50,100,1000],"range":[[1,0],[8,3,2,3],[5,2,1.5,2],[3.5,3]]},"legend":null}}},
   {"data":{"values":[{}]},"mark":{"type":"point","opacity":0},"encoding":{
    "x":{"datum":0.01,"axis":{"orient":"top","tickCount":40,"labels":false,"title":null,"tickSize":{"condition":{"test":"indexof([0.0001,0.001,0.01,0.1,1,10],datum.value)>=0","value":-5},"value":-2.5}}},
    "y":{"datum":0,"axis":{"orient":"right","tickCount":20,"values":[-0.5,0,0.5],"labels":false,"title":null}}}}]},
  {"width":227,"height":44,"resolve":{"axis":{"x":"independent","y":"independent"}},"layer":[
   {"data":{"name":"dpk"},"transform":[{"filter":"datum.z==0.5"}],"mark":{"type":"line","clip":true},
   "encoding":{
    "x":{"field":"x","type":"quantitative","scale":{"type":"log","domain":[0.0001,10],"nice":false},"axis":{"tickCount":40,"labels":false,"title":null,"tickSize":{"condition":{"test":"indexof([0.0001,0.001,0.01,0.1,1,10],datum.value)>=0","value":-5},"value":-2.5}}},
    "y":{"field":"y","type":"quantitative","scale":{"domain":[-1,1],"nice":false},"axis":{"orient":"right","tickCount":20,"values":[-0.5,0,0.5],"format":".1f","labelOverlap":false,"title":"δP(k)/P(k) [%]"}},
    "color":{"field":"s","type":"nominal","scale":{"domain":[10,50,100,1000],"range":["#0f1b7f","#2e93ea","#f7a51c","#3ccc3c"]},"legend":null},
    "strokeDash":{"field":"s","type":"nominal","scale":{"domain":[10,50,100,1000],"range":[[1,0],[8,3,2,3],[5,2,1.5,2],[3.5,3]]},"legend":null}}},
   {"data":{"values":[{}]},"mark":{"type":"point","opacity":0},"encoding":{
    "x":{"datum":0.01,"axis":{"orient":"top","tickCount":40,"labels":false,"title":null,"tickSize":{"condition":{"test":"indexof([0.0001,0.001,0.01,0.1,1,10],datum.value)>=0","value":-5},"value":-2.5}}},
    "y":{"datum":0,"axis":{"orient":"left","tickCount":20,"values":[-0.5,0,0.5],"labels":false,"title":null}}}}]},
  {"width":229,"height":113,"resolve":{"axis":{"x":"independent","y":"independent"}},"layer":[
   {"data":{"name":"pk"},"transform":[{"filter":"datum.z==1"}],"mark":{"type":"line","clip":true},
   "encoding":{
    "x":{"field":"x","type":"quantitative","scale":{"type":"log","domain":[0.0001,10],"nice":false},"axis":{"tickCount":40,"labels":false,"title":null,"tickSize":{"condition":{"test":"indexof([0.0001,0.001,0.01,0.1,1,10],datum.value)>=0","value":-5},"value":-2.5}}},
    "y":{"field":"y","type":"quantitative","scale":{"type":"log","domain":[1,100000],"nice":false},"axis":{"tickCount":20,"values":[1,10,100,1000,10000,100000],"labelOverlap":false,"labelExpr":"datum.value==1?'10⁰':datum.value==10?'10¹':datum.value==100?'10²':datum.value==1000?'10³':datum.value==10000?'10⁴':'10⁵'","title":"P(k)[(h⁻¹ Mpc)³]"}},
    "color":{"field":"s","type":"nominal","scale":{"domain":[10,50,100,1000],"range":["#0f1b7f","#2e93ea","#f7a51c","#3ccc3c"]},"legend":null},
    "strokeDash":{"field":"s","type":"nominal","scale":{"domain":[10,50,100,1000],"range":[[1,0],[8,3,2,3],[5,2,1.5,2],[3.5,3]]},"legend":null}}},
   {"data":{"values":[{"t":"z=1"}]},"mark":{"type":"text","font":"Liberation Serif","fontSize":11,"align":"left","baseline":"middle"},"encoding":{"x":{"datum":0.0002,"axis":null},"y":{"datum":12000,"axis":null},"text":{"field":"t"}}},
   {"data":{"values":[{}]},"mark":{"type":"point","opacity":0},"encoding":{
    "x":{"datum":0.01,"axis":{"orient":"top","tickCount":40,"labels":false,"title":null,"tickSize":{"condition":{"test":"indexof([0.0001,0.001,0.01,0.1,1,10],datum.value)>=0","value":-5},"value":-2.5}}},
    "y":{"datum":100,"axis":{"orient":"right","tickCount":20,"values":[1,10,100,1000,10000,100000],"labels":false,"title":null}}}}]},
  {"width":227,"height":113,"resolve":{"axis":{"x":"independent","y":"independent"}},"layer":[
   {"data":{"name":"pk"},"transform":[{"filter":"datum.z==2"}],"mark":{"type":"line","clip":true},
   "encoding":{
    "x":{"field":"x","type":"quantitative","scale":{"type":"log","domain":[0.0001,10],"nice":false},"axis":{"tickCount":40,"labels":false,"title":null,"tickSize":{"condition":{"test":"indexof([0.0001,0.001,0.01,0.1,1,10],datum.value)>=0","value":-5},"value":-2.5}}},
    "y":{"field":"y","type":"quantitative","scale":{"type":"log","domain":[1,100000],"nice":false},"axis":{"orient":"right","tickCount":20,"values":[1,10,100,1000,10000,100000],"labelOverlap":false,"labelExpr":"datum.value==1?'10⁰':datum.value==10?'10¹':datum.value==100?'10²':datum.value==1000?'10³':datum.value==10000?'10⁴':'10⁵'","title":"P(k)[(h⁻¹ Mpc)³]"}},
    "color":{"field":"s","type":"nominal","scale":{"domain":[10,50,100,1000],"range":["#0f1b7f","#2e93ea","#f7a51c","#3ccc3c"]},"legend":null},
    "strokeDash":{"field":"s","type":"nominal","scale":{"domain":[10,50,100,1000],"range":[[1,0],[8,3,2,3],[5,2,1.5,2],[3.5,3]]},"legend":null}}},
   {"data":{"values":[{"t":"z=2"}]},"mark":{"type":"text","font":"Liberation Serif","fontSize":11,"align":"left","baseline":"middle"},"encoding":{"x":{"datum":0.0002,"axis":null},"y":{"datum":12000,"axis":null},"text":{"field":"t"}}},
   {"data":{"values":[{}]},"mark":{"type":"point","opacity":0},"encoding":{
    "x":{"datum":0.01,"axis":{"orient":"top","tickCount":40,"labels":false,"title":null,"tickSize":{"condition":{"test":"indexof([0.0001,0.001,0.01,0.1,1,10],datum.value)>=0","value":-5},"value":-2.5}}},
    "y":{"datum":100,"axis":{"orient":"left","tickCount":20,"values":[1,10,100,1000,10000,100000],"labels":false,"title":null}}}}]},
  {"width":229,"height":45,"resolve":{"axis":{"x":"independent","y":"independent"}},"layer":[
   {"data":{"name":"dpk"},"transform":[{"filter":"datum.z==1"}],"mark":{"type":"line","clip":true},
   "encoding":{
    "x":{"field":"x","type":"quantitative","scale":{"type":"log","domain":[0.0001,10],"nice":false},"axis":{"tickCount":40,"labelExpr":"datum.value==0.0001?'10⁻⁴':datum.value==0.001?'10⁻³':datum.value==0.01?'10⁻²':datum.value==0.1?'10⁻¹':datum.value==1?'10⁰':datum.value==10?'10¹':''","title":"k[h/Mpc]","tickSize":{"condition":{"test":"indexof([0.0001,0.001,0.01,0.1,1,10],datum.value)>=0","value":-5},"value":-2.5}}},
    "y":{"field":"y","type":"quantitative","scale":{"domain":[-1,1],"nice":false},"axis":{"tickCount":20,"values":[-0.5,0,0.5],"format":".1f","labelOverlap":false,"title":"δP(k)/P(k) [%]"}},
    "color":{"field":"s","type":"nominal","scale":{"domain":[10,50,100,1000],"range":["#0f1b7f","#2e93ea","#f7a51c","#3ccc3c"]},"legend":null},
    "strokeDash":{"field":"s","type":"nominal","scale":{"domain":[10,50,100,1000],"range":[[1,0],[8,3,2,3],[5,2,1.5,2],[3.5,3]]},"legend":null}}},
   {"data":{"values":[{}]},"mark":{"type":"point","opacity":0},"encoding":{
    "x":{"datum":0.01,"axis":{"orient":"top","tickCount":40,"labels":false,"title":null,"tickSize":{"condition":{"test":"indexof([0.0001,0.001,0.01,0.1,1,10],datum.value)>=0","value":-5},"value":-2.5}}},
    "y":{"datum":0,"axis":{"orient":"right","tickCount":20,"values":[-0.5,0,0.5],"labels":false,"title":null}}}}]},
  {"width":227,"height":45,"resolve":{"axis":{"x":"independent","y":"independent"}},"layer":[
   {"data":{"name":"dpk"},"transform":[{"filter":"datum.z==2"}],"mark":{"type":"line","clip":true},
   "encoding":{
    "x":{"field":"x","type":"quantitative","scale":{"type":"log","domain":[0.0001,10],"nice":false},"axis":{"tickCount":40,"labelExpr":"datum.value==0.001?'10⁻³':datum.value==0.01?'10⁻²':datum.value==0.1?'10⁻¹':datum.value==1?'10⁰':datum.value==10?'10¹':''","title":"k[h/Mpc]","tickSize":{"condition":{"test":"indexof([0.0001,0.001,0.01,0.1,1,10],datum.value)>=0","value":-5},"value":-2.5}}},
    "y":{"field":"y","type":"quantitative","scale":{"domain":[-1,1],"nice":false},"axis":{"orient":"right","tickCount":20,"values":[-0.5,0,0.5],"format":".1f","labelOverlap":false,"title":"δP(k)/P(k) [%]"}},
    "color":{"field":"s","type":"nominal","scale":{"domain":[10,50,100,1000],"range":["#0f1b7f","#2e93ea","#f7a51c","#3ccc3c"]},"legend":null},
    "strokeDash":{"field":"s","type":"nominal","scale":{"domain":[10,50,100,1000],"range":[[1,0],[8,3,2,3],[5,2,1.5,2],[3.5,3]]},"legend":null}}},
   {"data":{"values":[{}]},"mark":{"type":"point","opacity":0},"encoding":{
    "x":{"datum":0.01,"axis":{"orient":"top","tickCount":40,"labels":false,"title":null,"tickSize":{"condition":{"test":"indexof([0.0001,0.001,0.01,0.1,1,10],datum.value)>=0","value":-5},"value":-2.5}}},
    "y":{"datum":0,"axis":{"orient":"left","tickCount":20,"values":[-0.5,0,0.5],"labels":false,"title":null}}}}]}
]}
]
}
